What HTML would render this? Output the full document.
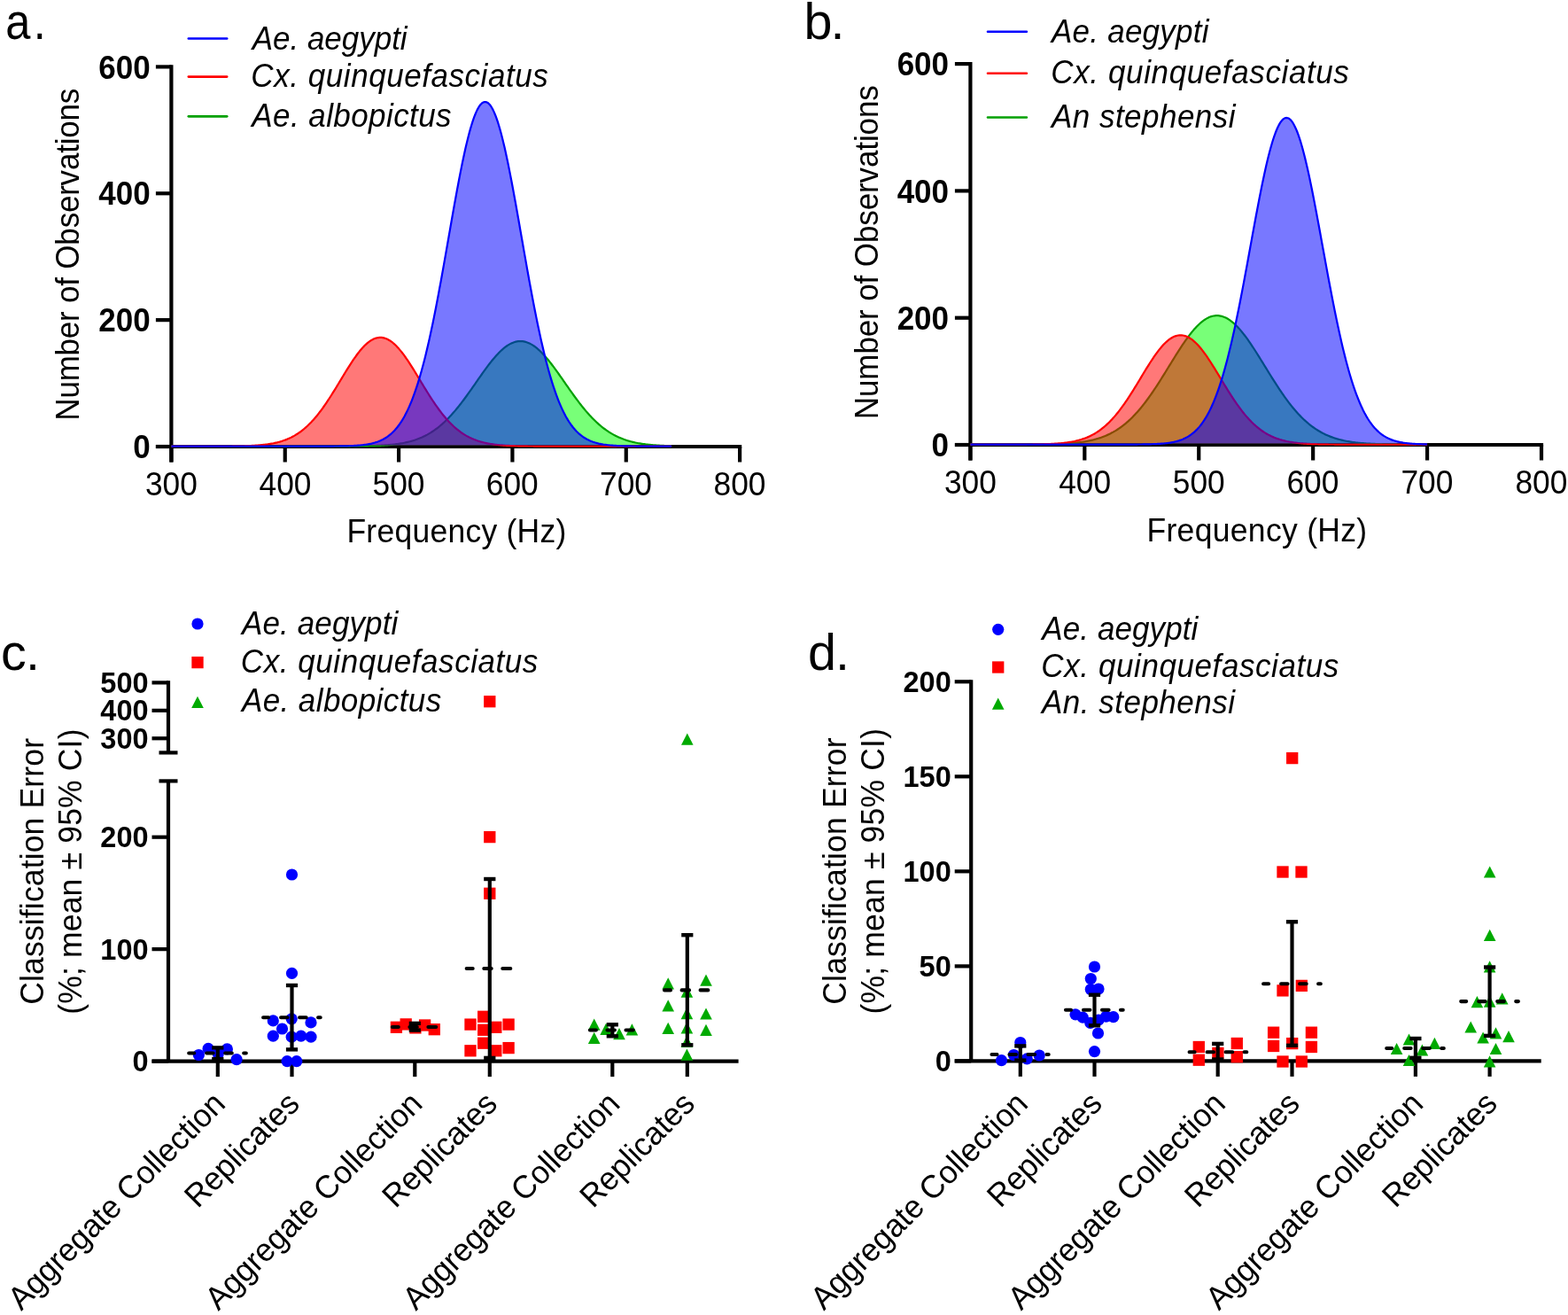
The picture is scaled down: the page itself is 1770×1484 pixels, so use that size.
<!DOCTYPE html>
<html><head><meta charset="utf-8"><title>Figure</title>
<style>html,body{margin:0;padding:0;background:#fff;overflow:hidden}svg{display:block}</style>
</head><body>
<svg width="1770" height="1484" viewBox="0 0 1770 1484" font-family="'Liberation Sans', Arial, Helvetica, sans-serif">
<rect width="1770" height="1484" fill="#fff"/>
<line x1="193.4" y1="73.3" x2="193.4" y2="521.5" stroke="#000" stroke-width="4.2" stroke-linecap="butt"/>
<line x1="175.9" y1="504" x2="193.4" y2="504" stroke="#000" stroke-width="4.2" stroke-linecap="butt"/>
<text font-size="35" font-weight="bold" transform="translate(150.27,517.11) scale(1,1.06)">0</text>
<line x1="175.9" y1="361.13" x2="193.4" y2="361.13" stroke="#000" stroke-width="4.2" stroke-linecap="butt"/>
<text font-size="35" font-weight="bold" transform="translate(111.34,374.25) scale(1,1.06)">200</text>
<line x1="175.9" y1="218.27" x2="193.4" y2="218.27" stroke="#000" stroke-width="4.2" stroke-linecap="butt"/>
<text font-size="35" font-weight="bold" transform="translate(111.34,231.38) scale(1,1.06)">400</text>
<line x1="175.9" y1="75.4" x2="193.4" y2="75.4" stroke="#000" stroke-width="4.2" stroke-linecap="butt"/>
<text font-size="35" font-weight="bold" transform="translate(111.34,88.51) scale(1,1.06)">600</text>
<line x1="175.9" y1="504" x2="837.2" y2="504" stroke="#000" stroke-width="4.2" stroke-linecap="butt"/>
<line x1="193.4" y1="504" x2="193.4" y2="521.5" stroke="#000" stroke-width="4.2" stroke-linecap="butt"/>
<text font-size="35.3" transform="translate(163.97,558.6) scale(1,1.06)">300</text>
<line x1="321.74" y1="504" x2="321.74" y2="521.5" stroke="#000" stroke-width="4.2" stroke-linecap="butt"/>
<text font-size="35.3" transform="translate(292.58,558.6) scale(1,1.06)">400</text>
<line x1="450.08" y1="504" x2="450.08" y2="521.5" stroke="#000" stroke-width="4.2" stroke-linecap="butt"/>
<text font-size="35.3" transform="translate(420.61,558.6) scale(1,1.06)">500</text>
<line x1="578.42" y1="504" x2="578.42" y2="521.5" stroke="#000" stroke-width="4.2" stroke-linecap="butt"/>
<text font-size="35.3" transform="translate(548.76,558.6) scale(1,1.06)">600</text>
<line x1="706.76" y1="504" x2="706.76" y2="521.5" stroke="#000" stroke-width="4.2" stroke-linecap="butt"/>
<text font-size="35.3" transform="translate(677.1,558.6) scale(1,1.06)">700</text>
<line x1="835.1" y1="504" x2="835.1" y2="521.5" stroke="#000" stroke-width="4.2" stroke-linecap="butt"/>
<text font-size="35.3" transform="translate(805.57,558.6) scale(1,1.06)">800</text>
<path d="M193.4,502.4 L193.4,502.4 L194.68,502.4 L195.97,502.4 L197.25,502.4 L198.53,502.4 L199.82,502.4 L201.1,502.4 L202.38,502.4 L203.67,502.4 L204.95,502.4 L206.23,502.4 L207.52,502.4 L208.8,502.4 L210.08,502.4 L211.37,502.4 L212.65,502.4 L213.93,502.4 L215.22,502.4 L216.5,502.4 L217.78,502.4 L219.07,502.4 L220.35,502.4 L221.63,502.4 L222.92,502.4 L224.2,502.4 L225.49,502.4 L226.77,502.4 L228.05,502.4 L229.34,502.4 L230.62,502.4 L231.9,502.4 L233.19,502.4 L234.47,502.4 L235.75,502.4 L237.04,502.4 L238.32,502.4 L239.6,502.4 L240.89,502.4 L242.17,502.4 L243.45,502.4 L244.74,502.4 L246.02,502.4 L247.3,502.4 L248.59,502.4 L249.87,502.4 L251.15,502.4 L252.44,502.4 L253.72,502.4 L255,502.4 L256.29,502.4 L257.57,502.4 L258.85,502.4 L260.14,502.4 L261.42,502.4 L262.7,502.4 L263.99,502.4 L265.27,502.4 L266.55,502.4 L267.84,502.4 L269.12,502.4 L270.4,502.4 L271.69,502.4 L272.97,502.4 L274.25,502.4 L275.54,502.4 L276.82,502.4 L278.1,502.4 L279.39,502.4 L280.67,502.4 L281.95,502.4 L283.24,502.4 L284.52,502.4 L285.8,502.4 L287.09,502.4 L288.37,502.4 L289.66,502.4 L290.94,502.4 L292.22,502.4 L293.51,502.4 L294.79,502.4 L296.07,502.4 L297.36,502.4 L298.64,502.4 L299.92,502.4 L301.21,502.4 L302.49,502.4 L303.77,502.4 L305.06,502.4 L306.34,502.4 L307.62,502.4 L308.91,502.4 L310.19,502.4 L311.47,502.4 L312.76,502.4 L314.04,502.4 L315.32,502.4 L316.61,502.4 L317.89,502.4 L319.17,502.4 L320.46,502.4 L321.74,502.4 L323.02,502.4 L324.31,502.4 L325.59,502.4 L326.87,502.4 L328.16,502.4 L329.44,502.4 L330.72,502.4 L332.01,502.4 L333.29,502.4 L334.57,502.4 L335.86,502.4 L337.14,502.4 L338.42,502.4 L339.71,502.4 L340.99,502.4 L342.27,502.4 L343.56,502.4 L344.84,502.4 L346.12,502.4 L347.41,502.4 L348.69,502.4 L349.97,502.4 L351.26,502.4 L352.54,502.4 L353.83,502.4 L355.11,502.4 L356.39,502.4 L357.68,502.4 L358.96,502.4 L360.24,502.4 L361.53,502.4 L362.81,502.4 L364.09,502.4 L365.38,502.4 L366.66,502.4 L367.94,502.4 L369.23,502.4 L370.51,502.4 L371.79,502.4 L373.08,502.4 L374.36,502.4 L375.64,502.4 L376.93,502.4 L378.21,502.4 L379.49,502.4 L380.78,502.4 L382.06,502.4 L383.34,502.4 L384.63,502.4 L385.91,502.4 L387.19,502.4 L388.48,502.4 L389.76,502.4 L391.04,502.4 L392.33,502.4 L393.61,502.4 L394.89,502.4 L396.18,502.4 L397.46,502.4 L398.74,502.4 L400.03,502.4 L401.31,502.4 L402.59,502.4 L403.88,502.4 L405.16,502.4 L406.44,502.4 L407.73,502.4 L409.01,502.4 L410.29,502.4 L411.58,502.4 L412.86,502.4 L414.14,502.4 L415.43,502.4 L416.71,502.4 L418,502.4 L419.28,502.4 L420.56,502.4 L421.85,502.4 L423.13,502.4 L424.41,502.4 L425.7,502.4 L426.98,502.4 L428.26,502.4 L429.55,502.4 L430.83,502.4 L432.11,502.4 L433.4,502.4 L434.68,502.4 L435.96,502.38 L437.25,502.28 L438.53,502.18 L439.81,502.07 L441.1,501.95 L442.38,501.82 L443.66,501.68 L444.95,501.53 L446.23,501.38 L447.51,501.21 L448.8,501.04 L450.08,500.85 L451.36,500.65 L452.65,500.44 L453.93,500.21 L455.21,499.97 L456.5,499.72 L457.78,499.45 L459.06,499.17 L460.35,498.87 L461.63,498.55 L462.91,498.22 L464.2,497.87 L465.48,497.5 L466.76,497.11 L468.05,496.69 L469.33,496.26 L470.61,495.81 L471.9,495.33 L473.18,494.83 L474.46,494.3 L475.75,493.75 L477.03,493.17 L478.31,492.57 L479.6,491.94 L480.88,491.28 L482.17,490.6 L483.45,489.88 L484.73,489.14 L486.02,488.36 L487.3,487.55 L488.58,486.71 L489.87,485.84 L491.15,484.94 L492.43,484 L493.72,483.03 L495,482.03 L496.28,480.99 L497.57,479.92 L498.85,478.81 L500.13,477.67 L501.42,476.49 L502.7,475.28 L503.98,474.03 L505.27,472.75 L506.55,471.44 L507.83,470.09 L509.12,468.7 L510.4,467.29 L511.68,465.84 L512.97,464.36 L514.25,462.85 L515.53,461.3 L516.82,459.73 L518.1,458.13 L519.38,456.5 L520.67,454.85 L521.95,453.17 L523.23,451.47 L524.52,449.74 L525.8,448 L527.08,446.24 L528.37,444.46 L529.65,442.66 L530.93,440.85 L532.22,439.03 L533.5,437.2 L534.78,435.36 L536.07,433.52 L537.35,431.68 L538.63,429.83 L539.92,427.99 L541.2,426.16 L542.48,424.33 L543.77,422.51 L545.05,420.7 L546.34,418.91 L547.62,417.14 L548.9,415.39 L550.19,413.66 L551.47,411.96 L552.75,410.29 L554.04,408.65 L555.32,407.04 L556.6,405.48 L557.89,403.95 L559.17,402.46 L560.45,401.02 L561.74,399.63 L563.02,398.29 L564.3,397 L565.59,395.77 L566.87,394.59 L568.15,393.47 L569.44,392.42 L570.72,391.43 L572,390.5 L573.29,389.64 L574.57,388.86 L575.85,388.14 L577.14,387.49 L578.42,386.92 L579.7,386.42 L580.99,385.99 L582.27,385.64 L583.55,385.37 L584.84,385.18 L586.12,385.06 L587.4,385.02 L588.69,385.06 L589.97,385.18 L591.25,385.37 L592.54,385.64 L593.82,385.99 L595.1,386.42 L596.39,386.92 L597.67,387.49 L598.95,388.14 L600.24,388.86 L601.52,389.64 L602.8,390.5 L604.09,391.43 L605.37,392.42 L606.65,393.47 L607.94,394.59 L609.22,395.77 L610.5,397 L611.79,398.29 L613.07,399.63 L614.36,401.02 L615.64,402.46 L616.92,403.95 L618.21,405.48 L619.49,407.04 L620.77,408.65 L622.06,410.29 L623.34,411.96 L624.62,413.66 L625.91,415.39 L627.19,417.14 L628.47,418.91 L629.76,420.7 L631.04,422.51 L632.32,424.33 L633.61,426.16 L634.89,427.99 L636.17,429.83 L637.46,431.68 L638.74,433.52 L640.02,435.36 L641.31,437.2 L642.59,439.03 L643.87,440.85 L645.16,442.66 L646.44,444.46 L647.72,446.24 L649.01,448 L650.29,449.74 L651.57,451.47 L652.86,453.17 L654.14,454.85 L655.42,456.5 L656.71,458.13 L657.99,459.73 L659.27,461.3 L660.56,462.85 L661.84,464.36 L663.12,465.84 L664.41,467.29 L665.69,468.7 L666.97,470.09 L668.26,471.44 L669.54,472.75 L670.82,474.03 L672.11,475.28 L673.39,476.49 L674.68,477.67 L675.96,478.81 L677.24,479.92 L678.53,480.99 L679.81,482.03 L681.09,483.03 L682.38,484 L683.66,484.94 L684.94,485.84 L686.23,486.71 L687.51,487.55 L688.79,488.36 L690.08,489.14 L691.36,489.88 L692.64,490.6 L693.93,491.28 L695.21,491.94 L696.49,492.57 L697.78,493.17 L699.06,493.75 L700.34,494.3 L701.63,494.83 L702.91,495.33 L704.19,495.81 L705.48,496.26 L706.76,496.69 L708.04,497.11 L709.33,497.5 L710.61,497.87 L711.89,498.22 L713.18,498.55 L714.46,498.87 L715.74,499.17 L717.03,499.45 L718.31,499.72 L719.59,499.97 L720.88,500.21 L722.16,500.44 L723.44,500.65 L724.73,500.85 L726.01,501.04 L727.29,501.21 L728.58,501.38 L729.86,501.53 L731.14,501.68 L732.43,501.82 L733.71,501.95 L734.99,502.07 L736.28,502.18 L737.56,502.28 L738.85,502.38 L740.13,502.4 L741.41,502.4 L742.7,502.4 L743.98,502.4 L745.26,502.4 L746.55,502.4 L747.83,502.4 L749.11,502.4 L750.4,502.4 L751.68,502.4 L752.96,502.4 L754.25,502.4 L755.53,502.4 L756.81,502.4 L758.1,502.4 L758.1,502.4 Z" fill="#00ff00" fill-opacity="0.53"/>
<path d="M193.4,503.6 L194.68,503.6 L195.97,503.6 L197.25,503.6 L198.53,503.6 L199.82,503.6 L201.1,503.6 L202.38,503.6 L203.67,503.6 L204.95,503.6 L206.23,503.6 L207.52,503.6 L208.8,503.6 L210.08,503.6 L211.37,503.6 L212.65,503.6 L213.93,503.6 L215.22,503.6 L216.5,503.6 L217.78,503.6 L219.07,503.6 L220.35,503.6 L221.63,503.6 L222.92,503.6 L224.2,503.6 L225.49,503.6 L226.77,503.6 L228.05,503.6 L229.34,503.6 L230.62,503.6 L231.9,503.6 L233.19,503.6 L234.47,503.6 L235.75,503.6 L237.04,503.6 L238.32,503.6 L239.6,503.6 L240.89,503.6 L242.17,503.6 L243.45,503.6 L244.74,503.6 L246.02,503.6 L247.3,503.6 L248.59,503.6 L249.87,503.6 L251.15,503.6 L252.44,503.6 L253.72,503.6 L255,503.6 L256.29,503.6 L257.57,503.6 L258.85,503.6 L260.14,503.6 L261.42,503.6 L262.7,503.6 L263.99,503.6 L265.27,503.6 L266.55,503.6 L267.84,503.6 L269.12,503.6 L270.4,503.6 L271.69,503.6 L272.97,503.6 L274.25,503.6 L275.54,503.6 L276.82,503.6 L278.1,503.6 L279.39,503.6 L280.67,503.6 L281.95,503.6 L283.24,503.6 L284.52,503.6 L285.8,503.6 L287.09,503.6 L288.37,503.6 L289.66,503.6 L290.94,503.6 L292.22,503.6 L293.51,503.6 L294.79,503.6 L296.07,503.6 L297.36,503.6 L298.64,503.6 L299.92,503.6 L301.21,503.6 L302.49,503.6 L303.77,503.6 L305.06,503.6 L306.34,503.6 L307.62,503.6 L308.91,503.6 L310.19,503.6 L311.47,503.6 L312.76,503.6 L314.04,503.6 L315.32,503.6 L316.61,503.6 L317.89,503.6 L319.17,503.6 L320.46,503.6 L321.74,503.6 L323.02,503.6 L324.31,503.6 L325.59,503.6 L326.87,503.6 L328.16,503.6 L329.44,503.6 L330.72,503.6 L332.01,503.6 L333.29,503.6 L334.57,503.6 L335.86,503.6 L337.14,503.6 L338.42,503.6 L339.71,503.6 L340.99,503.6 L342.27,503.6 L343.56,503.6 L344.84,503.6 L346.12,503.6 L347.41,503.6 L348.69,503.6 L349.97,503.6 L351.26,503.6 L352.54,503.6 L353.83,503.6 L355.11,503.6 L356.39,503.6 L357.68,503.6 L358.96,503.6 L360.24,503.6 L361.53,503.6 L362.81,503.59 L364.09,503.59 L365.38,503.59 L366.66,503.59 L367.94,503.59 L369.23,503.59 L370.51,503.59 L371.79,503.59 L373.08,503.59 L374.36,503.59 L375.64,503.58 L376.93,503.58 L378.21,503.58 L379.49,503.58 L380.78,503.58 L382.06,503.57 L383.34,503.57 L384.63,503.57 L385.91,503.56 L387.19,503.56 L388.48,503.56 L389.76,503.55 L391.04,503.55 L392.33,503.54 L393.61,503.53 L394.89,503.53 L396.18,503.52 L397.46,503.51 L398.74,503.5 L400.03,503.49 L401.31,503.48 L402.59,503.47 L403.88,503.46 L405.16,503.44 L406.44,503.43 L407.73,503.41 L409.01,503.39 L410.29,503.37 L411.58,503.35 L412.86,503.33 L414.14,503.3 L415.43,503.28 L416.71,503.25 L418,503.21 L419.28,503.18 L420.56,503.14 L421.85,503.1 L423.13,503.06 L424.41,503.01 L425.7,502.96 L426.98,502.9 L428.26,502.84 L429.55,502.78 L430.83,502.71 L432.11,502.64 L433.4,502.56 L434.68,502.47 L435.96,502.38 L437.25,502.28 L438.53,502.18 L439.81,502.07 L441.1,501.95 L442.38,501.82 L443.66,501.68 L444.95,501.53 L446.23,501.38 L447.51,501.21 L448.8,501.04 L450.08,500.85 L451.36,500.65 L452.65,500.44 L453.93,500.21 L455.21,499.97 L456.5,499.72 L457.78,499.45 L459.06,499.17 L460.35,498.87 L461.63,498.55 L462.91,498.22 L464.2,497.87 L465.48,497.5 L466.76,497.11 L468.05,496.69 L469.33,496.26 L470.61,495.81 L471.9,495.33 L473.18,494.83 L474.46,494.3 L475.75,493.75 L477.03,493.17 L478.31,492.57 L479.6,491.94 L480.88,491.28 L482.17,490.6 L483.45,489.88 L484.73,489.14 L486.02,488.36 L487.3,487.55 L488.58,486.71 L489.87,485.84 L491.15,484.94 L492.43,484 L493.72,483.03 L495,482.03 L496.28,480.99 L497.57,479.92 L498.85,478.81 L500.13,477.67 L501.42,476.49 L502.7,475.28 L503.98,474.03 L505.27,472.75 L506.55,471.44 L507.83,470.09 L509.12,468.7 L510.4,467.29 L511.68,465.84 L512.97,464.36 L514.25,462.85 L515.53,461.3 L516.82,459.73 L518.1,458.13 L519.38,456.5 L520.67,454.85 L521.95,453.17 L523.23,451.47 L524.52,449.74 L525.8,448 L527.08,446.24 L528.37,444.46 L529.65,442.66 L530.93,440.85 L532.22,439.03 L533.5,437.2 L534.78,435.36 L536.07,433.52 L537.35,431.68 L538.63,429.83 L539.92,427.99 L541.2,426.16 L542.48,424.33 L543.77,422.51 L545.05,420.7 L546.34,418.91 L547.62,417.14 L548.9,415.39 L550.19,413.66 L551.47,411.96 L552.75,410.29 L554.04,408.65 L555.32,407.04 L556.6,405.48 L557.89,403.95 L559.17,402.46 L560.45,401.02 L561.74,399.63 L563.02,398.29 L564.3,397 L565.59,395.77 L566.87,394.59 L568.15,393.47 L569.44,392.42 L570.72,391.43 L572,390.5 L573.29,389.64 L574.57,388.86 L575.85,388.14 L577.14,387.49 L578.42,386.92 L579.7,386.42 L580.99,385.99 L582.27,385.64 L583.55,385.37 L584.84,385.18 L586.12,385.06 L587.4,385.02 L588.69,385.06 L589.97,385.18 L591.25,385.37 L592.54,385.64 L593.82,385.99 L595.1,386.42 L596.39,386.92 L597.67,387.49 L598.95,388.14 L600.24,388.86 L601.52,389.64 L602.8,390.5 L604.09,391.43 L605.37,392.42 L606.65,393.47 L607.94,394.59 L609.22,395.77 L610.5,397 L611.79,398.29 L613.07,399.63 L614.36,401.02 L615.64,402.46 L616.92,403.95 L618.21,405.48 L619.49,407.04 L620.77,408.65 L622.06,410.29 L623.34,411.96 L624.62,413.66 L625.91,415.39 L627.19,417.14 L628.47,418.91 L629.76,420.7 L631.04,422.51 L632.32,424.33 L633.61,426.16 L634.89,427.99 L636.17,429.83 L637.46,431.68 L638.74,433.52 L640.02,435.36 L641.31,437.2 L642.59,439.03 L643.87,440.85 L645.16,442.66 L646.44,444.46 L647.72,446.24 L649.01,448 L650.29,449.74 L651.57,451.47 L652.86,453.17 L654.14,454.85 L655.42,456.5 L656.71,458.13 L657.99,459.73 L659.27,461.3 L660.56,462.85 L661.84,464.36 L663.12,465.84 L664.41,467.29 L665.69,468.7 L666.97,470.09 L668.26,471.44 L669.54,472.75 L670.82,474.03 L672.11,475.28 L673.39,476.49 L674.68,477.67 L675.96,478.81 L677.24,479.92 L678.53,480.99 L679.81,482.03 L681.09,483.03 L682.38,484 L683.66,484.94 L684.94,485.84 L686.23,486.71 L687.51,487.55 L688.79,488.36 L690.08,489.14 L691.36,489.88 L692.64,490.6 L693.93,491.28 L695.21,491.94 L696.49,492.57 L697.78,493.17 L699.06,493.75 L700.34,494.3 L701.63,494.83 L702.91,495.33 L704.19,495.81 L705.48,496.26 L706.76,496.69 L708.04,497.11 L709.33,497.5 L710.61,497.87 L711.89,498.22 L713.18,498.55 L714.46,498.87 L715.74,499.17 L717.03,499.45 L718.31,499.72 L719.59,499.97 L720.88,500.21 L722.16,500.44 L723.44,500.65 L724.73,500.85 L726.01,501.04 L727.29,501.21 L728.58,501.38 L729.86,501.53 L731.14,501.68 L732.43,501.82 L733.71,501.95 L734.99,502.07 L736.28,502.18 L737.56,502.28 L738.85,502.38 L740.13,502.47 L741.41,502.56 L742.7,502.64 L743.98,502.71 L745.26,502.78 L746.55,502.84 L747.83,502.9 L749.11,502.96 L750.4,503.01 L751.68,503.06 L752.96,503.1 L754.25,503.14 L755.53,503.18 L756.81,503.21 L758.1,503.25" fill="none" stroke="#00a000" stroke-width="2.2" stroke-linejoin="round"/>
<path d="M193.4,502.4 L193.4,502.4 L194.68,502.4 L195.97,502.4 L197.25,502.4 L198.53,502.4 L199.82,502.4 L201.1,502.4 L202.38,502.4 L203.67,502.4 L204.95,502.4 L206.23,502.4 L207.52,502.4 L208.8,502.4 L210.08,502.4 L211.37,502.4 L212.65,502.4 L213.93,502.4 L215.22,502.4 L216.5,502.4 L217.78,502.4 L219.07,502.4 L220.35,502.4 L221.63,502.4 L222.92,502.4 L224.2,502.4 L225.49,502.4 L226.77,502.4 L228.05,502.4 L229.34,502.4 L230.62,502.4 L231.9,502.4 L233.19,502.4 L234.47,502.4 L235.75,502.4 L237.04,502.4 L238.32,502.4 L239.6,502.4 L240.89,502.4 L242.17,502.4 L243.45,502.4 L244.74,502.4 L246.02,502.4 L247.3,502.4 L248.59,502.4 L249.87,502.4 L251.15,502.4 L252.44,502.4 L253.72,502.4 L255,502.4 L256.29,502.4 L257.57,502.4 L258.85,502.4 L260.14,502.4 L261.42,502.4 L262.7,502.4 L263.99,502.4 L265.27,502.4 L266.55,502.4 L267.84,502.4 L269.12,502.4 L270.4,502.4 L271.69,502.4 L272.97,502.4 L274.25,502.4 L275.54,502.4 L276.82,502.4 L278.1,502.4 L279.39,502.4 L280.67,502.4 L281.95,502.4 L283.24,502.4 L284.52,502.4 L285.8,502.4 L287.09,502.4 L288.37,502.4 L289.66,502.4 L290.94,502.4 L292.22,502.4 L293.51,502.33 L294.79,502.21 L296.07,502.09 L297.36,501.96 L298.64,501.81 L299.92,501.66 L301.21,501.49 L302.49,501.32 L303.77,501.13 L305.06,500.92 L306.34,500.7 L307.62,500.47 L308.91,500.22 L310.19,499.95 L311.47,499.66 L312.76,499.36 L314.04,499.03 L315.32,498.69 L316.61,498.32 L317.89,497.93 L319.17,497.52 L320.46,497.08 L321.74,496.62 L323.02,496.12 L324.31,495.61 L325.59,495.06 L326.87,494.48 L328.16,493.87 L329.44,493.23 L330.72,492.55 L332.01,491.84 L333.29,491.09 L334.57,490.31 L335.86,489.49 L337.14,488.63 L338.42,487.74 L339.71,486.8 L340.99,485.82 L342.27,484.8 L343.56,483.74 L344.84,482.64 L346.12,481.49 L347.41,480.3 L348.69,479.06 L349.97,477.78 L351.26,476.46 L352.54,475.09 L353.83,473.67 L355.11,472.22 L356.39,470.71 L357.68,469.17 L358.96,467.58 L360.24,465.94 L361.53,464.27 L362.81,462.55 L364.09,460.8 L365.38,459 L366.66,457.17 L367.94,455.3 L369.23,453.4 L370.51,451.47 L371.79,449.51 L373.08,447.51 L374.36,445.5 L375.64,443.45 L376.93,441.39 L378.21,439.31 L379.49,437.22 L380.78,435.11 L382.06,432.99 L383.34,430.87 L384.63,428.74 L385.91,426.61 L387.19,424.49 L388.48,422.38 L389.76,420.28 L391.04,418.19 L392.33,416.12 L393.61,414.08 L394.89,412.06 L396.18,410.07 L397.46,408.12 L398.74,406.21 L400.03,404.34 L401.31,402.52 L402.59,400.74 L403.88,399.02 L405.16,397.36 L406.44,395.76 L407.73,394.23 L409.01,392.77 L410.29,391.37 L411.58,390.06 L412.86,388.82 L414.14,387.66 L415.43,386.58 L416.71,385.6 L418,384.7 L419.28,383.89 L420.56,383.17 L421.85,382.55 L423.13,382.03 L424.41,381.6 L425.7,381.27 L426.98,381.04 L428.26,380.91 L429.55,380.88 L430.83,380.95 L432.11,381.12 L433.4,381.39 L434.68,381.76 L435.96,382.22 L437.25,382.79 L438.53,383.45 L439.81,384.2 L441.1,385.04 L442.38,385.98 L443.66,387 L444.95,388.11 L446.23,389.3 L447.51,390.57 L448.8,391.92 L450.08,393.34 L451.36,394.84 L452.65,396.4 L453.93,398.02 L455.21,399.71 L456.5,401.45 L457.78,403.24 L459.06,405.08 L460.35,406.97 L461.63,408.9 L462.91,410.87 L464.2,412.86 L465.48,414.89 L466.76,416.95 L468.05,419.02 L469.33,421.12 L470.61,423.22 L471.9,425.34 L473.18,427.46 L474.46,429.59 L475.75,431.72 L477.03,433.84 L478.31,435.95 L479.6,438.06 L480.88,440.15 L482.17,442.22 L483.45,444.27 L484.73,446.31 L486.02,448.31 L487.3,450.29 L488.58,452.25 L489.87,454.17 L491.15,456.06 L492.43,457.91 L493.72,459.73 L495,461.5 L496.28,463.24 L497.57,464.94 L498.85,466.6 L500.13,468.22 L501.42,469.79 L502.7,471.32 L503.98,472.8 L505.27,474.25 L506.55,475.64 L507.83,476.99 L509.12,478.3 L510.4,479.56 L511.68,480.78 L512.97,481.95 L514.25,483.08 L515.53,484.17 L516.82,485.22 L518.1,486.22 L519.38,487.18 L520.67,488.1 L521.95,488.98 L523.23,489.82 L524.52,490.63 L525.8,491.4 L527.08,492.13 L528.37,492.82 L529.65,493.49 L530.93,494.12 L532.22,494.71 L533.5,495.28 L534.78,495.82 L536.07,496.32 L537.35,496.8 L538.63,497.26 L539.92,497.69 L541.2,498.09 L542.48,498.47 L543.77,498.83 L545.05,499.17 L546.34,499.48 L547.62,499.78 L548.9,500.06 L550.19,500.32 L551.47,500.56 L552.75,500.79 L554.04,501 L555.32,501.2 L556.6,501.39 L557.89,501.56 L559.17,501.72 L560.45,501.87 L561.74,502.01 L563.02,502.14 L564.3,502.26 L565.59,502.37 L566.87,502.4 L568.15,502.4 L569.44,502.4 L570.72,502.4 L572,502.4 L573.29,502.4 L574.57,502.4 L575.85,502.4 L577.14,502.4 L578.42,502.4 L579.7,502.4 L580.99,502.4 L582.27,502.4 L583.55,502.4 L584.84,502.4 L586.12,502.4 L587.4,502.4 L588.69,502.4 L589.97,502.4 L591.25,502.4 L592.54,502.4 L593.82,502.4 L595.1,502.4 L596.39,502.4 L597.67,502.4 L598.95,502.4 L600.24,502.4 L601.52,502.4 L602.8,502.4 L604.09,502.4 L605.37,502.4 L606.65,502.4 L607.94,502.4 L609.22,502.4 L610.5,502.4 L611.79,502.4 L613.07,502.4 L614.36,502.4 L615.64,502.4 L616.92,502.4 L618.21,502.4 L619.49,502.4 L620.77,502.4 L622.06,502.4 L623.34,502.4 L624.62,502.4 L625.91,502.4 L627.19,502.4 L628.47,502.4 L629.76,502.4 L631.04,502.4 L632.32,502.4 L633.61,502.4 L634.89,502.4 L636.17,502.4 L637.46,502.4 L638.74,502.4 L640.02,502.4 L641.31,502.4 L642.59,502.4 L643.87,502.4 L645.16,502.4 L646.44,502.4 L647.72,502.4 L649.01,502.4 L650.29,502.4 L651.57,502.4 L652.86,502.4 L654.14,502.4 L655.42,502.4 L656.71,502.4 L657.99,502.4 L659.27,502.4 L660.56,502.4 L661.84,502.4 L663.12,502.4 L664.41,502.4 L665.69,502.4 L666.97,502.4 L668.26,502.4 L669.54,502.4 L670.82,502.4 L672.11,502.4 L673.39,502.4 L674.68,502.4 L675.96,502.4 L677.24,502.4 L678.53,502.4 L679.81,502.4 L681.09,502.4 L682.38,502.4 L683.66,502.4 L684.94,502.4 L686.23,502.4 L687.51,502.4 L688.79,502.4 L690.08,502.4 L691.36,502.4 L692.64,502.4 L693.93,502.4 L695.21,502.4 L696.49,502.4 L697.78,502.4 L699.06,502.4 L700.34,502.4 L701.63,502.4 L702.91,502.4 L704.19,502.4 L705.48,502.4 L706.76,502.4 L708.04,502.4 L709.33,502.4 L710.61,502.4 L711.89,502.4 L713.18,502.4 L714.46,502.4 L715.74,502.4 L717.03,502.4 L718.31,502.4 L719.59,502.4 L720.88,502.4 L722.16,502.4 L723.44,502.4 L724.73,502.4 L726.01,502.4 L727.29,502.4 L728.58,502.4 L729.86,502.4 L731.14,502.4 L732.43,502.4 L733.71,502.4 L734.99,502.4 L736.28,502.4 L737.56,502.4 L738.85,502.4 L740.13,502.4 L741.41,502.4 L742.7,502.4 L743.98,502.4 L745.26,502.4 L746.55,502.4 L747.83,502.4 L749.11,502.4 L750.4,502.4 L751.68,502.4 L752.96,502.4 L754.25,502.4 L755.53,502.4 L756.81,502.4 L758.1,502.4 L758.1,502.4 Z" fill="#ff0000" fill-opacity="0.53"/>
<path d="M193.4,503.6 L194.68,503.6 L195.97,503.6 L197.25,503.6 L198.53,503.6 L199.82,503.6 L201.1,503.6 L202.38,503.6 L203.67,503.6 L204.95,503.6 L206.23,503.6 L207.52,503.6 L208.8,503.6 L210.08,503.6 L211.37,503.6 L212.65,503.6 L213.93,503.6 L215.22,503.6 L216.5,503.6 L217.78,503.6 L219.07,503.6 L220.35,503.6 L221.63,503.6 L222.92,503.6 L224.2,503.6 L225.49,503.6 L226.77,503.6 L228.05,503.59 L229.34,503.59 L230.62,503.59 L231.9,503.59 L233.19,503.59 L234.47,503.59 L235.75,503.59 L237.04,503.59 L238.32,503.59 L239.6,503.58 L240.89,503.58 L242.17,503.58 L243.45,503.58 L244.74,503.57 L246.02,503.57 L247.3,503.57 L248.59,503.56 L249.87,503.56 L251.15,503.55 L252.44,503.55 L253.72,503.54 L255,503.53 L256.29,503.53 L257.57,503.52 L258.85,503.51 L260.14,503.5 L261.42,503.49 L262.7,503.47 L263.99,503.46 L265.27,503.44 L266.55,503.43 L267.84,503.41 L269.12,503.39 L270.4,503.36 L271.69,503.34 L272.97,503.31 L274.25,503.28 L275.54,503.25 L276.82,503.21 L278.1,503.17 L279.39,503.13 L280.67,503.08 L281.95,503.03 L283.24,502.98 L284.52,502.92 L285.8,502.85 L287.09,502.78 L288.37,502.7 L289.66,502.62 L290.94,502.53 L292.22,502.43 L293.51,502.33 L294.79,502.21 L296.07,502.09 L297.36,501.96 L298.64,501.81 L299.92,501.66 L301.21,501.49 L302.49,501.32 L303.77,501.13 L305.06,500.92 L306.34,500.7 L307.62,500.47 L308.91,500.22 L310.19,499.95 L311.47,499.66 L312.76,499.36 L314.04,499.03 L315.32,498.69 L316.61,498.32 L317.89,497.93 L319.17,497.52 L320.46,497.08 L321.74,496.62 L323.02,496.12 L324.31,495.61 L325.59,495.06 L326.87,494.48 L328.16,493.87 L329.44,493.23 L330.72,492.55 L332.01,491.84 L333.29,491.09 L334.57,490.31 L335.86,489.49 L337.14,488.63 L338.42,487.74 L339.71,486.8 L340.99,485.82 L342.27,484.8 L343.56,483.74 L344.84,482.64 L346.12,481.49 L347.41,480.3 L348.69,479.06 L349.97,477.78 L351.26,476.46 L352.54,475.09 L353.83,473.67 L355.11,472.22 L356.39,470.71 L357.68,469.17 L358.96,467.58 L360.24,465.94 L361.53,464.27 L362.81,462.55 L364.09,460.8 L365.38,459 L366.66,457.17 L367.94,455.3 L369.23,453.4 L370.51,451.47 L371.79,449.51 L373.08,447.51 L374.36,445.5 L375.64,443.45 L376.93,441.39 L378.21,439.31 L379.49,437.22 L380.78,435.11 L382.06,432.99 L383.34,430.87 L384.63,428.74 L385.91,426.61 L387.19,424.49 L388.48,422.38 L389.76,420.28 L391.04,418.19 L392.33,416.12 L393.61,414.08 L394.89,412.06 L396.18,410.07 L397.46,408.12 L398.74,406.21 L400.03,404.34 L401.31,402.52 L402.59,400.74 L403.88,399.02 L405.16,397.36 L406.44,395.76 L407.73,394.23 L409.01,392.77 L410.29,391.37 L411.58,390.06 L412.86,388.82 L414.14,387.66 L415.43,386.58 L416.71,385.6 L418,384.7 L419.28,383.89 L420.56,383.17 L421.85,382.55 L423.13,382.03 L424.41,381.6 L425.7,381.27 L426.98,381.04 L428.26,380.91 L429.55,380.88 L430.83,380.95 L432.11,381.12 L433.4,381.39 L434.68,381.76 L435.96,382.22 L437.25,382.79 L438.53,383.45 L439.81,384.2 L441.1,385.04 L442.38,385.98 L443.66,387 L444.95,388.11 L446.23,389.3 L447.51,390.57 L448.8,391.92 L450.08,393.34 L451.36,394.84 L452.65,396.4 L453.93,398.02 L455.21,399.71 L456.5,401.45 L457.78,403.24 L459.06,405.08 L460.35,406.97 L461.63,408.9 L462.91,410.87 L464.2,412.86 L465.48,414.89 L466.76,416.95 L468.05,419.02 L469.33,421.12 L470.61,423.22 L471.9,425.34 L473.18,427.46 L474.46,429.59 L475.75,431.72 L477.03,433.84 L478.31,435.95 L479.6,438.06 L480.88,440.15 L482.17,442.22 L483.45,444.27 L484.73,446.31 L486.02,448.31 L487.3,450.29 L488.58,452.25 L489.87,454.17 L491.15,456.06 L492.43,457.91 L493.72,459.73 L495,461.5 L496.28,463.24 L497.57,464.94 L498.85,466.6 L500.13,468.22 L501.42,469.79 L502.7,471.32 L503.98,472.8 L505.27,474.25 L506.55,475.64 L507.83,476.99 L509.12,478.3 L510.4,479.56 L511.68,480.78 L512.97,481.95 L514.25,483.08 L515.53,484.17 L516.82,485.22 L518.1,486.22 L519.38,487.18 L520.67,488.1 L521.95,488.98 L523.23,489.82 L524.52,490.63 L525.8,491.4 L527.08,492.13 L528.37,492.82 L529.65,493.49 L530.93,494.12 L532.22,494.71 L533.5,495.28 L534.78,495.82 L536.07,496.32 L537.35,496.8 L538.63,497.26 L539.92,497.69 L541.2,498.09 L542.48,498.47 L543.77,498.83 L545.05,499.17 L546.34,499.48 L547.62,499.78 L548.9,500.06 L550.19,500.32 L551.47,500.56 L552.75,500.79 L554.04,501 L555.32,501.2 L556.6,501.39 L557.89,501.56 L559.17,501.72 L560.45,501.87 L561.74,502.01 L563.02,502.14 L564.3,502.26 L565.59,502.37 L566.87,502.47 L568.15,502.57 L569.44,502.66 L570.72,502.74 L572,502.81 L573.29,502.88 L574.57,502.94 L575.85,503 L577.14,503.05 L578.42,503.1 L579.7,503.15 L580.99,503.19 L582.27,503.23 L583.55,503.26 L584.84,503.29 L586.12,503.32 L587.4,503.35 L588.69,503.37 L589.97,503.4 L591.25,503.42 L592.54,503.43 L593.82,503.45 L595.1,503.47 L596.39,503.48 L597.67,503.49 L598.95,503.5 L600.24,503.51 L601.52,503.52 L602.8,503.53 L604.09,503.54 L605.37,503.54 L606.65,503.55 L607.94,503.55 L609.22,503.56 L610.5,503.56 L611.79,503.57 L613.07,503.57 L614.36,503.57 L615.64,503.58 L616.92,503.58 L618.21,503.58 L619.49,503.58 L620.77,503.59 L622.06,503.59 L623.34,503.59 L624.62,503.59 L625.91,503.59 L627.19,503.59 L628.47,503.59 L629.76,503.59 L631.04,503.59 L632.32,503.6 L633.61,503.6 L634.89,503.6 L636.17,503.6 L637.46,503.6 L638.74,503.6 L640.02,503.6 L641.31,503.6 L642.59,503.6 L643.87,503.6 L645.16,503.6 L646.44,503.6 L647.72,503.6 L649.01,503.6 L650.29,503.6 L651.57,503.6 L652.86,503.6 L654.14,503.6 L655.42,503.6 L656.71,503.6 L657.99,503.6 L659.27,503.6 L660.56,503.6 L661.84,503.6 L663.12,503.6 L664.41,503.6 L665.69,503.6 L666.97,503.6 L668.26,503.6 L669.54,503.6 L670.82,503.6 L672.11,503.6 L673.39,503.6 L674.68,503.6 L675.96,503.6 L677.24,503.6 L678.53,503.6 L679.81,503.6 L681.09,503.6 L682.38,503.6 L683.66,503.6 L684.94,503.6 L686.23,503.6 L687.51,503.6 L688.79,503.6 L690.08,503.6 L691.36,503.6 L692.64,503.6 L693.93,503.6 L695.21,503.6 L696.49,503.6 L697.78,503.6 L699.06,503.6 L700.34,503.6 L701.63,503.6 L702.91,503.6 L704.19,503.6 L705.48,503.6 L706.76,503.6 L708.04,503.6 L709.33,503.6 L710.61,503.6 L711.89,503.6 L713.18,503.6 L714.46,503.6 L715.74,503.6 L717.03,503.6 L718.31,503.6 L719.59,503.6 L720.88,503.6 L722.16,503.6 L723.44,503.6 L724.73,503.6 L726.01,503.6 L727.29,503.6 L728.58,503.6 L729.86,503.6 L731.14,503.6 L732.43,503.6 L733.71,503.6 L734.99,503.6 L736.28,503.6 L737.56,503.6 L738.85,503.6 L740.13,503.6 L741.41,503.6 L742.7,503.6 L743.98,503.6 L745.26,503.6 L746.55,503.6 L747.83,503.6 L749.11,503.6 L750.4,503.6 L751.68,503.6 L752.96,503.6 L754.25,503.6 L755.53,503.6 L756.81,503.6 L758.1,503.6" fill="none" stroke="#ff0000" stroke-width="2.2" stroke-linejoin="round"/>
<path d="M193.4,502.4 L193.4,502.4 L194.68,502.4 L195.97,502.4 L197.25,502.4 L198.53,502.4 L199.82,502.4 L201.1,502.4 L202.38,502.4 L203.67,502.4 L204.95,502.4 L206.23,502.4 L207.52,502.4 L208.8,502.4 L210.08,502.4 L211.37,502.4 L212.65,502.4 L213.93,502.4 L215.22,502.4 L216.5,502.4 L217.78,502.4 L219.07,502.4 L220.35,502.4 L221.63,502.4 L222.92,502.4 L224.2,502.4 L225.49,502.4 L226.77,502.4 L228.05,502.4 L229.34,502.4 L230.62,502.4 L231.9,502.4 L233.19,502.4 L234.47,502.4 L235.75,502.4 L237.04,502.4 L238.32,502.4 L239.6,502.4 L240.89,502.4 L242.17,502.4 L243.45,502.4 L244.74,502.4 L246.02,502.4 L247.3,502.4 L248.59,502.4 L249.87,502.4 L251.15,502.4 L252.44,502.4 L253.72,502.4 L255,502.4 L256.29,502.4 L257.57,502.4 L258.85,502.4 L260.14,502.4 L261.42,502.4 L262.7,502.4 L263.99,502.4 L265.27,502.4 L266.55,502.4 L267.84,502.4 L269.12,502.4 L270.4,502.4 L271.69,502.4 L272.97,502.4 L274.25,502.4 L275.54,502.4 L276.82,502.4 L278.1,502.4 L279.39,502.4 L280.67,502.4 L281.95,502.4 L283.24,502.4 L284.52,502.4 L285.8,502.4 L287.09,502.4 L288.37,502.4 L289.66,502.4 L290.94,502.4 L292.22,502.4 L293.51,502.4 L294.79,502.4 L296.07,502.4 L297.36,502.4 L298.64,502.4 L299.92,502.4 L301.21,502.4 L302.49,502.4 L303.77,502.4 L305.06,502.4 L306.34,502.4 L307.62,502.4 L308.91,502.4 L310.19,502.4 L311.47,502.4 L312.76,502.4 L314.04,502.4 L315.32,502.4 L316.61,502.4 L317.89,502.4 L319.17,502.4 L320.46,502.4 L321.74,502.4 L323.02,502.4 L324.31,502.4 L325.59,502.4 L326.87,502.4 L328.16,502.4 L329.44,502.4 L330.72,502.4 L332.01,502.4 L333.29,502.4 L334.57,502.4 L335.86,502.4 L337.14,502.4 L338.42,502.4 L339.71,502.4 L340.99,502.4 L342.27,502.4 L343.56,502.4 L344.84,502.4 L346.12,502.4 L347.41,502.4 L348.69,502.4 L349.97,502.4 L351.26,502.4 L352.54,502.4 L353.83,502.4 L355.11,502.4 L356.39,502.4 L357.68,502.4 L358.96,502.4 L360.24,502.4 L361.53,502.4 L362.81,502.4 L364.09,502.4 L365.38,502.4 L366.66,502.4 L367.94,502.4 L369.23,502.4 L370.51,502.4 L371.79,502.4 L373.08,502.4 L374.36,502.4 L375.64,502.4 L376.93,502.4 L378.21,502.4 L379.49,502.4 L380.78,502.4 L382.06,502.4 L383.34,502.4 L384.63,502.4 L385.91,502.4 L387.19,502.4 L388.48,502.4 L389.76,502.4 L391.04,502.4 L392.33,502.4 L393.61,502.4 L394.89,502.4 L396.18,502.4 L397.46,502.4 L398.74,502.4 L400.03,502.4 L401.31,502.4 L402.59,502.4 L403.88,502.4 L405.16,502.4 L406.44,502.4 L407.73,502.38 L409.01,502.25 L410.29,502.1 L411.58,501.93 L412.86,501.75 L414.14,501.56 L415.43,501.34 L416.71,501.11 L418,500.85 L419.28,500.57 L420.56,500.26 L421.85,499.92 L423.13,499.56 L424.41,499.16 L425.7,498.73 L426.98,498.26 L428.26,497.75 L429.55,497.21 L430.83,496.61 L432.11,495.97 L433.4,495.28 L434.68,494.53 L435.96,493.73 L437.25,492.86 L438.53,491.93 L439.81,490.94 L441.1,489.87 L442.38,488.72 L443.66,487.5 L444.95,486.19 L446.23,484.79 L447.51,483.31 L448.8,481.72 L450.08,480.03 L451.36,478.24 L452.65,476.34 L453.93,474.33 L455.21,472.19 L456.5,469.94 L457.78,467.55 L459.06,465.04 L460.35,462.39 L461.63,459.6 L462.91,456.66 L464.2,453.58 L465.48,450.35 L466.76,446.97 L468.05,443.42 L469.33,439.72 L470.61,435.86 L471.9,431.83 L473.18,427.64 L474.46,423.28 L475.75,418.76 L477.03,414.06 L478.31,409.2 L479.6,404.17 L480.88,398.97 L482.17,393.61 L483.45,388.08 L484.73,382.4 L486.02,376.55 L487.3,370.56 L488.58,364.42 L489.87,358.14 L491.15,351.72 L492.43,345.17 L493.72,338.5 L495,331.71 L496.28,324.82 L497.57,317.83 L498.85,310.76 L500.13,303.61 L501.42,296.4 L502.7,289.14 L503.98,281.84 L505.27,274.51 L506.55,267.17 L507.83,259.83 L509.12,252.51 L510.4,245.21 L511.68,237.97 L512.97,230.78 L514.25,223.68 L515.53,216.66 L516.82,209.76 L518.1,202.98 L519.38,196.34 L520.67,189.86 L521.95,183.56 L523.23,177.45 L524.52,171.54 L525.8,165.85 L527.08,160.4 L528.37,155.2 L529.65,150.26 L530.93,145.6 L532.22,141.23 L533.5,137.16 L534.78,133.41 L536.07,129.98 L537.35,126.89 L538.63,124.13 L539.92,121.73 L541.2,119.69 L542.48,118.01 L543.77,116.7 L545.05,115.76 L546.34,115.19 L547.62,115 L548.9,115.19 L550.19,115.76 L551.47,116.7 L552.75,118.01 L554.04,119.69 L555.32,121.73 L556.6,124.13 L557.89,126.89 L559.17,129.98 L560.45,133.41 L561.74,137.16 L563.02,141.23 L564.3,145.6 L565.59,150.26 L566.87,155.2 L568.15,160.4 L569.44,165.85 L570.72,171.54 L572,177.45 L573.29,183.56 L574.57,189.86 L575.85,196.34 L577.14,202.98 L578.42,209.76 L579.7,216.66 L580.99,223.68 L582.27,230.78 L583.55,237.97 L584.84,245.21 L586.12,252.51 L587.4,259.83 L588.69,267.17 L589.97,274.51 L591.25,281.84 L592.54,289.14 L593.82,296.4 L595.1,303.61 L596.39,310.76 L597.67,317.83 L598.95,324.82 L600.24,331.71 L601.52,338.5 L602.8,345.17 L604.09,351.72 L605.37,358.14 L606.65,364.42 L607.94,370.56 L609.22,376.55 L610.5,382.4 L611.79,388.08 L613.07,393.61 L614.36,398.97 L615.64,404.17 L616.92,409.2 L618.21,414.06 L619.49,418.76 L620.77,423.28 L622.06,427.64 L623.34,431.83 L624.62,435.86 L625.91,439.72 L627.19,443.42 L628.47,446.97 L629.76,450.35 L631.04,453.58 L632.32,456.66 L633.61,459.6 L634.89,462.39 L636.17,465.04 L637.46,467.55 L638.74,469.94 L640.02,472.19 L641.31,474.33 L642.59,476.34 L643.87,478.24 L645.16,480.03 L646.44,481.72 L647.72,483.31 L649.01,484.79 L650.29,486.19 L651.57,487.5 L652.86,488.72 L654.14,489.87 L655.42,490.94 L656.71,491.93 L657.99,492.86 L659.27,493.73 L660.56,494.53 L661.84,495.28 L663.12,495.97 L664.41,496.61 L665.69,497.21 L666.97,497.75 L668.26,498.26 L669.54,498.73 L670.82,499.16 L672.11,499.56 L673.39,499.92 L674.68,500.26 L675.96,500.57 L677.24,500.85 L678.53,501.11 L679.81,501.34 L681.09,501.56 L682.38,501.75 L683.66,501.93 L684.94,502.1 L686.23,502.25 L687.51,502.38 L688.79,502.4 L690.08,502.4 L691.36,502.4 L692.64,502.4 L693.93,502.4 L695.21,502.4 L696.49,502.4 L697.78,502.4 L699.06,502.4 L700.34,502.4 L701.63,502.4 L702.91,502.4 L704.19,502.4 L705.48,502.4 L706.76,502.4 L708.04,502.4 L709.33,502.4 L710.61,502.4 L711.89,502.4 L713.18,502.4 L714.46,502.4 L715.74,502.4 L717.03,502.4 L718.31,502.4 L719.59,502.4 L720.88,502.4 L722.16,502.4 L723.44,502.4 L724.73,502.4 L726.01,502.4 L727.29,502.4 L728.58,502.4 L729.86,502.4 L731.14,502.4 L732.43,502.4 L733.71,502.4 L734.99,502.4 L736.28,502.4 L737.56,502.4 L738.85,502.4 L740.13,502.4 L741.41,502.4 L742.7,502.4 L743.98,502.4 L745.26,502.4 L746.55,502.4 L747.83,502.4 L749.11,502.4 L750.4,502.4 L751.68,502.4 L752.96,502.4 L754.25,502.4 L755.53,502.4 L756.81,502.4 L758.1,502.4 L758.1,502.4 Z" fill="#0000ff" fill-opacity="0.53"/>
<path d="M193.4,503.6 L194.68,503.6 L195.97,503.6 L197.25,503.6 L198.53,503.6 L199.82,503.6 L201.1,503.6 L202.38,503.6 L203.67,503.6 L204.95,503.6 L206.23,503.6 L207.52,503.6 L208.8,503.6 L210.08,503.6 L211.37,503.6 L212.65,503.6 L213.93,503.6 L215.22,503.6 L216.5,503.6 L217.78,503.6 L219.07,503.6 L220.35,503.6 L221.63,503.6 L222.92,503.6 L224.2,503.6 L225.49,503.6 L226.77,503.6 L228.05,503.6 L229.34,503.6 L230.62,503.6 L231.9,503.6 L233.19,503.6 L234.47,503.6 L235.75,503.6 L237.04,503.6 L238.32,503.6 L239.6,503.6 L240.89,503.6 L242.17,503.6 L243.45,503.6 L244.74,503.6 L246.02,503.6 L247.3,503.6 L248.59,503.6 L249.87,503.6 L251.15,503.6 L252.44,503.6 L253.72,503.6 L255,503.6 L256.29,503.6 L257.57,503.6 L258.85,503.6 L260.14,503.6 L261.42,503.6 L262.7,503.6 L263.99,503.6 L265.27,503.6 L266.55,503.6 L267.84,503.6 L269.12,503.6 L270.4,503.6 L271.69,503.6 L272.97,503.6 L274.25,503.6 L275.54,503.6 L276.82,503.6 L278.1,503.6 L279.39,503.6 L280.67,503.6 L281.95,503.6 L283.24,503.6 L284.52,503.6 L285.8,503.6 L287.09,503.6 L288.37,503.6 L289.66,503.6 L290.94,503.6 L292.22,503.6 L293.51,503.6 L294.79,503.6 L296.07,503.6 L297.36,503.6 L298.64,503.6 L299.92,503.6 L301.21,503.6 L302.49,503.6 L303.77,503.6 L305.06,503.6 L306.34,503.6 L307.62,503.6 L308.91,503.6 L310.19,503.6 L311.47,503.6 L312.76,503.6 L314.04,503.6 L315.32,503.6 L316.61,503.6 L317.89,503.6 L319.17,503.6 L320.46,503.6 L321.74,503.6 L323.02,503.6 L324.31,503.6 L325.59,503.6 L326.87,503.6 L328.16,503.6 L329.44,503.6 L330.72,503.6 L332.01,503.6 L333.29,503.6 L334.57,503.6 L335.86,503.6 L337.14,503.6 L338.42,503.6 L339.71,503.6 L340.99,503.6 L342.27,503.6 L343.56,503.6 L344.84,503.6 L346.12,503.6 L347.41,503.6 L348.69,503.6 L349.97,503.6 L351.26,503.6 L352.54,503.59 L353.83,503.59 L355.11,503.59 L356.39,503.59 L357.68,503.59 L358.96,503.59 L360.24,503.59 L361.53,503.59 L362.81,503.58 L364.09,503.58 L365.38,503.58 L366.66,503.57 L367.94,503.57 L369.23,503.57 L370.51,503.56 L371.79,503.56 L373.08,503.55 L374.36,503.54 L375.64,503.54 L376.93,503.53 L378.21,503.52 L379.49,503.51 L380.78,503.49 L382.06,503.48 L383.34,503.46 L384.63,503.44 L385.91,503.42 L387.19,503.4 L388.48,503.38 L389.76,503.35 L391.04,503.32 L392.33,503.28 L393.61,503.24 L394.89,503.2 L396.18,503.15 L397.46,503.09 L398.74,503.03 L400.03,502.97 L401.31,502.89 L402.59,502.81 L403.88,502.72 L405.16,502.62 L406.44,502.5 L407.73,502.38 L409.01,502.25 L410.29,502.1 L411.58,501.93 L412.86,501.75 L414.14,501.56 L415.43,501.34 L416.71,501.11 L418,500.85 L419.28,500.57 L420.56,500.26 L421.85,499.92 L423.13,499.56 L424.41,499.16 L425.7,498.73 L426.98,498.26 L428.26,497.75 L429.55,497.21 L430.83,496.61 L432.11,495.97 L433.4,495.28 L434.68,494.53 L435.96,493.73 L437.25,492.86 L438.53,491.93 L439.81,490.94 L441.1,489.87 L442.38,488.72 L443.66,487.5 L444.95,486.19 L446.23,484.79 L447.51,483.31 L448.8,481.72 L450.08,480.03 L451.36,478.24 L452.65,476.34 L453.93,474.33 L455.21,472.19 L456.5,469.94 L457.78,467.55 L459.06,465.04 L460.35,462.39 L461.63,459.6 L462.91,456.66 L464.2,453.58 L465.48,450.35 L466.76,446.97 L468.05,443.42 L469.33,439.72 L470.61,435.86 L471.9,431.83 L473.18,427.64 L474.46,423.28 L475.75,418.76 L477.03,414.06 L478.31,409.2 L479.6,404.17 L480.88,398.97 L482.17,393.61 L483.45,388.08 L484.73,382.4 L486.02,376.55 L487.3,370.56 L488.58,364.42 L489.87,358.14 L491.15,351.72 L492.43,345.17 L493.72,338.5 L495,331.71 L496.28,324.82 L497.57,317.83 L498.85,310.76 L500.13,303.61 L501.42,296.4 L502.7,289.14 L503.98,281.84 L505.27,274.51 L506.55,267.17 L507.83,259.83 L509.12,252.51 L510.4,245.21 L511.68,237.97 L512.97,230.78 L514.25,223.68 L515.53,216.66 L516.82,209.76 L518.1,202.98 L519.38,196.34 L520.67,189.86 L521.95,183.56 L523.23,177.45 L524.52,171.54 L525.8,165.85 L527.08,160.4 L528.37,155.2 L529.65,150.26 L530.93,145.6 L532.22,141.23 L533.5,137.16 L534.78,133.41 L536.07,129.98 L537.35,126.89 L538.63,124.13 L539.92,121.73 L541.2,119.69 L542.48,118.01 L543.77,116.7 L545.05,115.76 L546.34,115.19 L547.62,115 L548.9,115.19 L550.19,115.76 L551.47,116.7 L552.75,118.01 L554.04,119.69 L555.32,121.73 L556.6,124.13 L557.89,126.89 L559.17,129.98 L560.45,133.41 L561.74,137.16 L563.02,141.23 L564.3,145.6 L565.59,150.26 L566.87,155.2 L568.15,160.4 L569.44,165.85 L570.72,171.54 L572,177.45 L573.29,183.56 L574.57,189.86 L575.85,196.34 L577.14,202.98 L578.42,209.76 L579.7,216.66 L580.99,223.68 L582.27,230.78 L583.55,237.97 L584.84,245.21 L586.12,252.51 L587.4,259.83 L588.69,267.17 L589.97,274.51 L591.25,281.84 L592.54,289.14 L593.82,296.4 L595.1,303.61 L596.39,310.76 L597.67,317.83 L598.95,324.82 L600.24,331.71 L601.52,338.5 L602.8,345.17 L604.09,351.72 L605.37,358.14 L606.65,364.42 L607.94,370.56 L609.22,376.55 L610.5,382.4 L611.79,388.08 L613.07,393.61 L614.36,398.97 L615.64,404.17 L616.92,409.2 L618.21,414.06 L619.49,418.76 L620.77,423.28 L622.06,427.64 L623.34,431.83 L624.62,435.86 L625.91,439.72 L627.19,443.42 L628.47,446.97 L629.76,450.35 L631.04,453.58 L632.32,456.66 L633.61,459.6 L634.89,462.39 L636.17,465.04 L637.46,467.55 L638.74,469.94 L640.02,472.19 L641.31,474.33 L642.59,476.34 L643.87,478.24 L645.16,480.03 L646.44,481.72 L647.72,483.31 L649.01,484.79 L650.29,486.19 L651.57,487.5 L652.86,488.72 L654.14,489.87 L655.42,490.94 L656.71,491.93 L657.99,492.86 L659.27,493.73 L660.56,494.53 L661.84,495.28 L663.12,495.97 L664.41,496.61 L665.69,497.21 L666.97,497.75 L668.26,498.26 L669.54,498.73 L670.82,499.16 L672.11,499.56 L673.39,499.92 L674.68,500.26 L675.96,500.57 L677.24,500.85 L678.53,501.11 L679.81,501.34 L681.09,501.56 L682.38,501.75 L683.66,501.93 L684.94,502.1 L686.23,502.25 L687.51,502.38 L688.79,502.5 L690.08,502.62 L691.36,502.72 L692.64,502.81 L693.93,502.89 L695.21,502.97 L696.49,503.03 L697.78,503.09 L699.06,503.15 L700.34,503.2 L701.63,503.24 L702.91,503.28 L704.19,503.32 L705.48,503.35 L706.76,503.38 L708.04,503.4 L709.33,503.42 L710.61,503.44 L711.89,503.46 L713.18,503.48 L714.46,503.49 L715.74,503.51 L717.03,503.52 L718.31,503.53 L719.59,503.54 L720.88,503.54 L722.16,503.55 L723.44,503.56 L724.73,503.56 L726.01,503.57 L727.29,503.57 L728.58,503.57 L729.86,503.58 L731.14,503.58 L732.43,503.58 L733.71,503.59 L734.99,503.59 L736.28,503.59 L737.56,503.59 L738.85,503.59 L740.13,503.59 L741.41,503.59 L742.7,503.59 L743.98,503.6 L745.26,503.6 L746.55,503.6 L747.83,503.6 L749.11,503.6 L750.4,503.6 L751.68,503.6 L752.96,503.6 L754.25,503.6 L755.53,503.6 L756.81,503.6 L758.1,503.6" fill="none" stroke="#0000ff" stroke-width="2.2" stroke-linejoin="round"/>
<text font-size="35.5" letter-spacing="0.254" transform="translate(391.39,611.6) scale(1,1.06)">Frequency (Hz)</text>
<text font-size="35" letter-spacing="-0.2" transform="translate(89,474.67) rotate(-90) scale(1,1.06)">Number of Observations</text>
<line x1="212.8" y1="43.5" x2="256.2" y2="43.5" stroke="#0000ff" stroke-width="2.6" stroke-linecap="round"/>
<text font-size="35" font-style="italic" letter-spacing="-0.013" transform="translate(284.73,55.6) scale(1,1.06)">Ae. aegypti</text>
<line x1="212.8" y1="86.6" x2="256.2" y2="86.6" stroke="#ff0000" stroke-width="2.6" stroke-linecap="round"/>
<text font-size="35" font-style="italic" letter-spacing="0.56" transform="translate(283.37,98.2) scale(1,1.06)">Cx. quinquefasciatus</text>
<line x1="212.8" y1="131.35" x2="256.2" y2="131.35" stroke="#00a000" stroke-width="2.6" stroke-linecap="round"/>
<text font-size="35" font-style="italic" letter-spacing="0.425" transform="translate(284.33,143) scale(1,1.06)">Ae. albopictus</text>
<text font-size="57.5" letter-spacing="3.602" transform="translate(6.35,43.9) scale(0.88,1)">a.</text>
<line x1="1095.4" y1="70" x2="1095.4" y2="519.5" stroke="#000" stroke-width="4.2" stroke-linecap="butt"/>
<line x1="1077.9" y1="502" x2="1095.4" y2="502" stroke="#000" stroke-width="4.2" stroke-linecap="butt"/>
<text font-size="35" font-weight="bold" transform="translate(1051.57,515.11) scale(1,1.06)">0</text>
<line x1="1077.9" y1="358.7" x2="1095.4" y2="358.7" stroke="#000" stroke-width="4.2" stroke-linecap="butt"/>
<text font-size="35" font-weight="bold" transform="translate(1012.64,371.81) scale(1,1.06)">200</text>
<line x1="1077.9" y1="215.4" x2="1095.4" y2="215.4" stroke="#000" stroke-width="4.2" stroke-linecap="butt"/>
<text font-size="35" font-weight="bold" transform="translate(1012.64,228.51) scale(1,1.06)">400</text>
<line x1="1077.9" y1="72.1" x2="1095.4" y2="72.1" stroke="#000" stroke-width="4.2" stroke-linecap="butt"/>
<text font-size="35" font-weight="bold" transform="translate(1012.64,85.21) scale(1,1.06)">600</text>
<line x1="1077.9" y1="502" x2="1742.1" y2="502" stroke="#000" stroke-width="4.2" stroke-linecap="butt"/>
<line x1="1095.4" y1="502" x2="1095.4" y2="519.5" stroke="#000" stroke-width="4.2" stroke-linecap="butt"/>
<text font-size="35.3" transform="translate(1065.97,557.3) scale(1,1.06)">300</text>
<line x1="1224.32" y1="502" x2="1224.32" y2="519.5" stroke="#000" stroke-width="4.2" stroke-linecap="butt"/>
<text font-size="35.3" transform="translate(1195.16,557.3) scale(1,1.06)">400</text>
<line x1="1353.24" y1="502" x2="1353.24" y2="519.5" stroke="#000" stroke-width="4.2" stroke-linecap="butt"/>
<text font-size="35.3" transform="translate(1323.77,557.3) scale(1,1.06)">500</text>
<line x1="1482.16" y1="502" x2="1482.16" y2="519.5" stroke="#000" stroke-width="4.2" stroke-linecap="butt"/>
<text font-size="35.3" transform="translate(1452.5,557.3) scale(1,1.06)">600</text>
<line x1="1611.08" y1="502" x2="1611.08" y2="519.5" stroke="#000" stroke-width="4.2" stroke-linecap="butt"/>
<text font-size="35.3" transform="translate(1581.42,557.3) scale(1,1.06)">700</text>
<line x1="1740" y1="502" x2="1740" y2="519.5" stroke="#000" stroke-width="4.2" stroke-linecap="butt"/>
<text font-size="35.3" transform="translate(1710.47,557.3) scale(1,1.06)">800</text>
<path d="M1095.4,500.4 L1095.4,500.4 L1096.69,500.4 L1097.98,500.4 L1099.27,500.4 L1100.56,500.4 L1101.85,500.4 L1103.14,500.4 L1104.42,500.4 L1105.71,500.4 L1107,500.4 L1108.29,500.4 L1109.58,500.4 L1110.87,500.4 L1112.16,500.4 L1113.45,500.4 L1114.74,500.4 L1116.03,500.4 L1117.32,500.4 L1118.61,500.4 L1119.89,500.4 L1121.18,500.4 L1122.47,500.4 L1123.76,500.4 L1125.05,500.4 L1126.34,500.4 L1127.63,500.4 L1128.92,500.4 L1130.21,500.4 L1131.5,500.4 L1132.79,500.4 L1134.08,500.4 L1135.37,500.4 L1136.65,500.4 L1137.94,500.4 L1139.23,500.4 L1140.52,500.4 L1141.81,500.4 L1143.1,500.4 L1144.39,500.4 L1145.68,500.4 L1146.97,500.4 L1148.26,500.4 L1149.55,500.4 L1150.84,500.4 L1152.12,500.4 L1153.41,500.4 L1154.7,500.4 L1155.99,500.4 L1157.28,500.4 L1158.57,500.4 L1159.86,500.4 L1161.15,500.4 L1162.44,500.4 L1163.73,500.4 L1165.02,500.4 L1166.31,500.4 L1167.6,500.4 L1168.88,500.4 L1170.17,500.4 L1171.46,500.4 L1172.75,500.4 L1174.04,500.4 L1175.33,500.4 L1176.62,500.4 L1177.91,500.4 L1179.2,500.4 L1180.49,500.4 L1181.78,500.4 L1183.07,500.4 L1184.35,500.4 L1185.64,500.4 L1186.93,500.4 L1188.22,500.4 L1189.51,500.4 L1190.8,500.4 L1192.09,500.4 L1193.38,500.4 L1194.67,500.4 L1195.96,500.4 L1197.25,500.4 L1198.54,500.4 L1199.83,500.4 L1201.11,500.4 L1202.4,500.4 L1203.69,500.4 L1204.98,500.4 L1206.27,500.38 L1207.56,500.29 L1208.85,500.19 L1210.14,500.09 L1211.43,499.97 L1212.72,499.85 L1214.01,499.73 L1215.3,499.59 L1216.58,499.44 L1217.87,499.29 L1219.16,499.13 L1220.45,498.95 L1221.74,498.77 L1223.03,498.58 L1224.32,498.37 L1225.61,498.15 L1226.9,497.92 L1228.19,497.68 L1229.48,497.42 L1230.77,497.15 L1232.06,496.86 L1233.34,496.56 L1234.63,496.24 L1235.92,495.9 L1237.21,495.54 L1238.5,495.17 L1239.79,494.78 L1241.08,494.37 L1242.37,493.94 L1243.66,493.48 L1244.95,493.01 L1246.24,492.51 L1247.53,491.99 L1248.81,491.44 L1250.1,490.87 L1251.39,490.27 L1252.68,489.65 L1253.97,489 L1255.26,488.32 L1256.55,487.62 L1257.84,486.88 L1259.13,486.12 L1260.42,485.32 L1261.71,484.5 L1263,483.64 L1264.29,482.75 L1265.57,481.82 L1266.86,480.86 L1268.15,479.87 L1269.44,478.85 L1270.73,477.79 L1272.02,476.69 L1273.31,475.56 L1274.6,474.39 L1275.89,473.18 L1277.18,471.94 L1278.47,470.67 L1279.76,469.35 L1281.04,468 L1282.33,466.61 L1283.62,465.19 L1284.91,463.73 L1286.2,462.23 L1287.49,460.7 L1288.78,459.13 L1290.07,457.52 L1291.36,455.88 L1292.65,454.21 L1293.94,452.5 L1295.23,450.77 L1296.52,448.99 L1297.8,447.19 L1299.09,445.36 L1300.38,443.5 L1301.67,441.61 L1302.96,439.7 L1304.25,437.76 L1305.54,435.8 L1306.83,433.82 L1308.12,431.81 L1309.41,429.79 L1310.7,427.75 L1311.99,425.69 L1313.27,423.63 L1314.56,421.55 L1315.85,419.46 L1317.14,417.37 L1318.43,415.27 L1319.72,413.17 L1321.01,411.07 L1322.3,408.97 L1323.59,406.88 L1324.88,404.8 L1326.17,402.72 L1327.46,400.66 L1328.75,398.61 L1330.03,396.59 L1331.32,394.58 L1332.61,392.6 L1333.9,390.64 L1335.19,388.71 L1336.48,386.81 L1337.77,384.95 L1339.06,383.12 L1340.35,381.34 L1341.64,379.59 L1342.93,377.89 L1344.22,376.24 L1345.5,374.64 L1346.79,373.09 L1348.08,371.59 L1349.37,370.16 L1350.66,368.78 L1351.95,367.46 L1353.24,366.21 L1354.53,365.02 L1355.82,363.9 L1357.11,362.85 L1358.4,361.87 L1359.69,360.97 L1360.98,360.14 L1362.26,359.38 L1363.55,358.7 L1364.84,358.1 L1366.13,357.58 L1367.42,357.14 L1368.71,356.78 L1370,356.5 L1371.29,356.3 L1372.58,356.18 L1373.87,356.15 L1375.16,356.2 L1376.45,356.33 L1377.73,356.55 L1379.02,356.84 L1380.31,357.22 L1381.6,357.68 L1382.89,358.21 L1384.18,358.83 L1385.47,359.52 L1386.76,360.3 L1388.05,361.14 L1389.34,362.06 L1390.63,363.06 L1391.92,364.12 L1393.21,365.25 L1394.49,366.45 L1395.78,367.72 L1397.07,369.05 L1398.36,370.44 L1399.65,371.89 L1400.94,373.39 L1402.23,374.95 L1403.52,376.57 L1404.81,378.23 L1406.1,379.94 L1407.39,381.69 L1408.68,383.48 L1409.96,385.32 L1411.25,387.19 L1412.54,389.09 L1413.83,391.03 L1415.12,392.99 L1416.41,394.98 L1417.7,396.99 L1418.99,399.02 L1420.28,401.07 L1421.57,403.14 L1422.86,405.21 L1424.15,407.3 L1425.44,409.39 L1426.72,411.49 L1428.01,413.59 L1429.3,415.69 L1430.59,417.79 L1431.88,419.88 L1433.17,421.97 L1434.46,424.04 L1435.75,426.11 L1437.04,428.16 L1438.33,430.19 L1439.62,432.21 L1440.91,434.21 L1442.19,436.19 L1443.48,438.15 L1444.77,440.08 L1446.06,441.99 L1447.35,443.88 L1448.64,445.73 L1449.93,447.56 L1451.22,449.35 L1452.51,451.12 L1453.8,452.85 L1455.09,454.55 L1456.38,456.21 L1457.67,457.85 L1458.95,459.44 L1460.24,461.01 L1461.53,462.53 L1462.82,464.02 L1464.11,465.48 L1465.4,466.89 L1466.69,468.27 L1467.98,469.62 L1469.27,470.92 L1470.56,472.19 L1471.85,473.43 L1473.14,474.63 L1474.42,475.79 L1475.71,476.91 L1477,478 L1478.29,479.05 L1479.58,480.07 L1480.87,481.06 L1482.16,482.01 L1483.45,482.93 L1484.74,483.81 L1486.03,484.66 L1487.32,485.48 L1488.61,486.27 L1489.9,487.03 L1491.18,487.76 L1492.47,488.46 L1493.76,489.13 L1495.05,489.78 L1496.34,490.4 L1497.63,490.99 L1498.92,491.55 L1500.21,492.09 L1501.5,492.61 L1502.79,493.1 L1504.08,493.57 L1505.37,494.02 L1506.65,494.45 L1507.94,494.86 L1509.23,495.25 L1510.52,495.62 L1511.81,495.97 L1513.1,496.3 L1514.39,496.62 L1515.68,496.92 L1516.97,497.2 L1518.26,497.47 L1519.55,497.73 L1520.84,497.97 L1522.13,498.2 L1523.41,498.41 L1524.7,498.62 L1525.99,498.81 L1527.28,498.99 L1528.57,499.16 L1529.86,499.32 L1531.15,499.47 L1532.44,499.62 L1533.73,499.75 L1535.02,499.88 L1536.31,500 L1537.6,500.11 L1538.88,500.21 L1540.17,500.31 L1541.46,500.4 L1542.75,500.4 L1544.04,500.4 L1545.33,500.4 L1546.62,500.4 L1547.91,500.4 L1549.2,500.4 L1550.49,500.4 L1551.78,500.4 L1553.07,500.4 L1554.36,500.4 L1555.64,500.4 L1556.93,500.4 L1558.22,500.4 L1559.51,500.4 L1560.8,500.4 L1562.09,500.4 L1563.38,500.4 L1564.67,500.4 L1565.96,500.4 L1567.25,500.4 L1568.54,500.4 L1569.83,500.4 L1571.11,500.4 L1572.4,500.4 L1573.69,500.4 L1574.98,500.4 L1576.27,500.4 L1577.56,500.4 L1578.85,500.4 L1580.14,500.4 L1581.43,500.4 L1582.72,500.4 L1584.01,500.4 L1585.3,500.4 L1586.59,500.4 L1587.87,500.4 L1589.16,500.4 L1590.45,500.4 L1591.74,500.4 L1593.03,500.4 L1594.32,500.4 L1595.61,500.4 L1596.9,500.4 L1598.19,500.4 L1599.48,500.4 L1600.77,500.4 L1602.06,500.4 L1603.34,500.4 L1604.63,500.4 L1605.92,500.4 L1607.21,500.4 L1608.5,500.4 L1609.79,500.4 L1611.08,500.4 L1611.08,500.4 Z" fill="#00ff00" fill-opacity="0.53"/>
<path d="M1095.4,501.6 L1096.69,501.6 L1097.98,501.6 L1099.27,501.6 L1100.56,501.6 L1101.85,501.6 L1103.14,501.6 L1104.42,501.6 L1105.71,501.6 L1107,501.6 L1108.29,501.6 L1109.58,501.6 L1110.87,501.6 L1112.16,501.6 L1113.45,501.6 L1114.74,501.6 L1116.03,501.6 L1117.32,501.6 L1118.61,501.6 L1119.89,501.6 L1121.18,501.6 L1122.47,501.6 L1123.76,501.6 L1125.05,501.6 L1126.34,501.6 L1127.63,501.6 L1128.92,501.59 L1130.21,501.59 L1131.5,501.59 L1132.79,501.59 L1134.08,501.59 L1135.37,501.59 L1136.65,501.59 L1137.94,501.59 L1139.23,501.59 L1140.52,501.59 L1141.81,501.58 L1143.1,501.58 L1144.39,501.58 L1145.68,501.58 L1146.97,501.58 L1148.26,501.58 L1149.55,501.57 L1150.84,501.57 L1152.12,501.57 L1153.41,501.56 L1154.7,501.56 L1155.99,501.56 L1157.28,501.55 L1158.57,501.55 L1159.86,501.54 L1161.15,501.53 L1162.44,501.53 L1163.73,501.52 L1165.02,501.51 L1166.31,501.51 L1167.6,501.5 L1168.88,501.49 L1170.17,501.48 L1171.46,501.46 L1172.75,501.45 L1174.04,501.44 L1175.33,501.42 L1176.62,501.41 L1177.91,501.39 L1179.2,501.37 L1180.49,501.35 L1181.78,501.33 L1183.07,501.3 L1184.35,501.28 L1185.64,501.25 L1186.93,501.22 L1188.22,501.19 L1189.51,501.15 L1190.8,501.12 L1192.09,501.08 L1193.38,501.03 L1194.67,500.99 L1195.96,500.94 L1197.25,500.88 L1198.54,500.83 L1199.83,500.76 L1201.11,500.7 L1202.4,500.63 L1203.69,500.55 L1204.98,500.47 L1206.27,500.38 L1207.56,500.29 L1208.85,500.19 L1210.14,500.09 L1211.43,499.97 L1212.72,499.85 L1214.01,499.73 L1215.3,499.59 L1216.58,499.44 L1217.87,499.29 L1219.16,499.13 L1220.45,498.95 L1221.74,498.77 L1223.03,498.58 L1224.32,498.37 L1225.61,498.15 L1226.9,497.92 L1228.19,497.68 L1229.48,497.42 L1230.77,497.15 L1232.06,496.86 L1233.34,496.56 L1234.63,496.24 L1235.92,495.9 L1237.21,495.54 L1238.5,495.17 L1239.79,494.78 L1241.08,494.37 L1242.37,493.94 L1243.66,493.48 L1244.95,493.01 L1246.24,492.51 L1247.53,491.99 L1248.81,491.44 L1250.1,490.87 L1251.39,490.27 L1252.68,489.65 L1253.97,489 L1255.26,488.32 L1256.55,487.62 L1257.84,486.88 L1259.13,486.12 L1260.42,485.32 L1261.71,484.5 L1263,483.64 L1264.29,482.75 L1265.57,481.82 L1266.86,480.86 L1268.15,479.87 L1269.44,478.85 L1270.73,477.79 L1272.02,476.69 L1273.31,475.56 L1274.6,474.39 L1275.89,473.18 L1277.18,471.94 L1278.47,470.67 L1279.76,469.35 L1281.04,468 L1282.33,466.61 L1283.62,465.19 L1284.91,463.73 L1286.2,462.23 L1287.49,460.7 L1288.78,459.13 L1290.07,457.52 L1291.36,455.88 L1292.65,454.21 L1293.94,452.5 L1295.23,450.77 L1296.52,448.99 L1297.8,447.19 L1299.09,445.36 L1300.38,443.5 L1301.67,441.61 L1302.96,439.7 L1304.25,437.76 L1305.54,435.8 L1306.83,433.82 L1308.12,431.81 L1309.41,429.79 L1310.7,427.75 L1311.99,425.69 L1313.27,423.63 L1314.56,421.55 L1315.85,419.46 L1317.14,417.37 L1318.43,415.27 L1319.72,413.17 L1321.01,411.07 L1322.3,408.97 L1323.59,406.88 L1324.88,404.8 L1326.17,402.72 L1327.46,400.66 L1328.75,398.61 L1330.03,396.59 L1331.32,394.58 L1332.61,392.6 L1333.9,390.64 L1335.19,388.71 L1336.48,386.81 L1337.77,384.95 L1339.06,383.12 L1340.35,381.34 L1341.64,379.59 L1342.93,377.89 L1344.22,376.24 L1345.5,374.64 L1346.79,373.09 L1348.08,371.59 L1349.37,370.16 L1350.66,368.78 L1351.95,367.46 L1353.24,366.21 L1354.53,365.02 L1355.82,363.9 L1357.11,362.85 L1358.4,361.87 L1359.69,360.97 L1360.98,360.14 L1362.26,359.38 L1363.55,358.7 L1364.84,358.1 L1366.13,357.58 L1367.42,357.14 L1368.71,356.78 L1370,356.5 L1371.29,356.3 L1372.58,356.18 L1373.87,356.15 L1375.16,356.2 L1376.45,356.33 L1377.73,356.55 L1379.02,356.84 L1380.31,357.22 L1381.6,357.68 L1382.89,358.21 L1384.18,358.83 L1385.47,359.52 L1386.76,360.3 L1388.05,361.14 L1389.34,362.06 L1390.63,363.06 L1391.92,364.12 L1393.21,365.25 L1394.49,366.45 L1395.78,367.72 L1397.07,369.05 L1398.36,370.44 L1399.65,371.89 L1400.94,373.39 L1402.23,374.95 L1403.52,376.57 L1404.81,378.23 L1406.1,379.94 L1407.39,381.69 L1408.68,383.48 L1409.96,385.32 L1411.25,387.19 L1412.54,389.09 L1413.83,391.03 L1415.12,392.99 L1416.41,394.98 L1417.7,396.99 L1418.99,399.02 L1420.28,401.07 L1421.57,403.14 L1422.86,405.21 L1424.15,407.3 L1425.44,409.39 L1426.72,411.49 L1428.01,413.59 L1429.3,415.69 L1430.59,417.79 L1431.88,419.88 L1433.17,421.97 L1434.46,424.04 L1435.75,426.11 L1437.04,428.16 L1438.33,430.19 L1439.62,432.21 L1440.91,434.21 L1442.19,436.19 L1443.48,438.15 L1444.77,440.08 L1446.06,441.99 L1447.35,443.88 L1448.64,445.73 L1449.93,447.56 L1451.22,449.35 L1452.51,451.12 L1453.8,452.85 L1455.09,454.55 L1456.38,456.21 L1457.67,457.85 L1458.95,459.44 L1460.24,461.01 L1461.53,462.53 L1462.82,464.02 L1464.11,465.48 L1465.4,466.89 L1466.69,468.27 L1467.98,469.62 L1469.27,470.92 L1470.56,472.19 L1471.85,473.43 L1473.14,474.63 L1474.42,475.79 L1475.71,476.91 L1477,478 L1478.29,479.05 L1479.58,480.07 L1480.87,481.06 L1482.16,482.01 L1483.45,482.93 L1484.74,483.81 L1486.03,484.66 L1487.32,485.48 L1488.61,486.27 L1489.9,487.03 L1491.18,487.76 L1492.47,488.46 L1493.76,489.13 L1495.05,489.78 L1496.34,490.4 L1497.63,490.99 L1498.92,491.55 L1500.21,492.09 L1501.5,492.61 L1502.79,493.1 L1504.08,493.57 L1505.37,494.02 L1506.65,494.45 L1507.94,494.86 L1509.23,495.25 L1510.52,495.62 L1511.81,495.97 L1513.1,496.3 L1514.39,496.62 L1515.68,496.92 L1516.97,497.2 L1518.26,497.47 L1519.55,497.73 L1520.84,497.97 L1522.13,498.2 L1523.41,498.41 L1524.7,498.62 L1525.99,498.81 L1527.28,498.99 L1528.57,499.16 L1529.86,499.32 L1531.15,499.47 L1532.44,499.62 L1533.73,499.75 L1535.02,499.88 L1536.31,500 L1537.6,500.11 L1538.88,500.21 L1540.17,500.31 L1541.46,500.4 L1542.75,500.49 L1544.04,500.57 L1545.33,500.64 L1546.62,500.71 L1547.91,500.78 L1549.2,500.84 L1550.49,500.89 L1551.78,500.95 L1553.07,501 L1554.36,501.04 L1555.64,501.08 L1556.93,501.12 L1558.22,501.16 L1559.51,501.2 L1560.8,501.23 L1562.09,501.26 L1563.38,501.28 L1564.67,501.31 L1565.96,501.33 L1567.25,501.35 L1568.54,501.37 L1569.83,501.39 L1571.11,501.41 L1572.4,501.43 L1573.69,501.44 L1574.98,501.45 L1576.27,501.47 L1577.56,501.48 L1578.85,501.49 L1580.14,501.5 L1581.43,501.51 L1582.72,501.52 L1584.01,501.52 L1585.3,501.53 L1586.59,501.54 L1587.87,501.54 L1589.16,501.55 L1590.45,501.55 L1591.74,501.56 L1593.03,501.56 L1594.32,501.56 L1595.61,501.57 L1596.9,501.57 L1598.19,501.57 L1599.48,501.58 L1600.77,501.58 L1602.06,501.58 L1603.34,501.58 L1604.63,501.58 L1605.92,501.59 L1607.21,501.59 L1608.5,501.59 L1609.79,501.59 L1611.08,501.59" fill="none" stroke="#00a000" stroke-width="2.2" stroke-linejoin="round"/>
<path d="M1095.4,500.4 L1095.4,500.4 L1096.69,500.4 L1097.98,500.4 L1099.27,500.4 L1100.56,500.4 L1101.85,500.4 L1103.14,500.4 L1104.42,500.4 L1105.71,500.4 L1107,500.4 L1108.29,500.4 L1109.58,500.4 L1110.87,500.4 L1112.16,500.4 L1113.45,500.4 L1114.74,500.4 L1116.03,500.4 L1117.32,500.4 L1118.61,500.4 L1119.89,500.4 L1121.18,500.4 L1122.47,500.4 L1123.76,500.4 L1125.05,500.4 L1126.34,500.4 L1127.63,500.4 L1128.92,500.4 L1130.21,500.4 L1131.5,500.4 L1132.79,500.4 L1134.08,500.4 L1135.37,500.4 L1136.65,500.4 L1137.94,500.4 L1139.23,500.4 L1140.52,500.4 L1141.81,500.4 L1143.1,500.4 L1144.39,500.4 L1145.68,500.4 L1146.97,500.4 L1148.26,500.4 L1149.55,500.4 L1150.84,500.4 L1152.12,500.4 L1153.41,500.4 L1154.7,500.4 L1155.99,500.4 L1157.28,500.4 L1158.57,500.4 L1159.86,500.4 L1161.15,500.4 L1162.44,500.4 L1163.73,500.4 L1165.02,500.4 L1166.31,500.4 L1167.6,500.4 L1168.88,500.4 L1170.17,500.4 L1171.46,500.4 L1172.75,500.4 L1174.04,500.4 L1175.33,500.4 L1176.62,500.4 L1177.91,500.4 L1179.2,500.4 L1180.49,500.4 L1181.78,500.4 L1183.07,500.4 L1184.35,500.4 L1185.64,500.4 L1186.93,500.4 L1188.22,500.4 L1189.51,500.4 L1190.8,500.4 L1192.09,500.4 L1193.38,500.4 L1194.67,500.4 L1195.96,500.34 L1197.25,500.23 L1198.54,500.11 L1199.83,499.98 L1201.11,499.83 L1202.4,499.68 L1203.69,499.52 L1204.98,499.34 L1206.27,499.15 L1207.56,498.95 L1208.85,498.73 L1210.14,498.5 L1211.43,498.25 L1212.72,497.99 L1214.01,497.7 L1215.3,497.4 L1216.58,497.08 L1217.87,496.74 L1219.16,496.37 L1220.45,495.99 L1221.74,495.57 L1223.03,495.14 L1224.32,494.68 L1225.61,494.19 L1226.9,493.67 L1228.19,493.13 L1229.48,492.55 L1230.77,491.95 L1232.06,491.31 L1233.34,490.64 L1234.63,489.93 L1235.92,489.19 L1237.21,488.41 L1238.5,487.59 L1239.79,486.74 L1241.08,485.85 L1242.37,484.91 L1243.66,483.94 L1244.95,482.92 L1246.24,481.86 L1247.53,480.76 L1248.81,479.62 L1250.1,478.43 L1251.39,477.2 L1252.68,475.92 L1253.97,474.6 L1255.26,473.23 L1256.55,471.82 L1257.84,470.36 L1259.13,468.86 L1260.42,467.32 L1261.71,465.73 L1263,464.09 L1264.29,462.42 L1265.57,460.7 L1266.86,458.95 L1268.15,457.15 L1269.44,455.32 L1270.73,453.45 L1272.02,451.55 L1273.31,449.61 L1274.6,447.64 L1275.89,445.65 L1277.18,443.63 L1278.47,441.58 L1279.76,439.51 L1281.04,437.42 L1282.33,435.32 L1283.62,433.2 L1284.91,431.08 L1286.2,428.95 L1287.49,426.81 L1288.78,424.67 L1290.07,422.54 L1291.36,420.41 L1292.65,418.3 L1293.94,416.2 L1295.23,414.12 L1296.52,412.06 L1297.8,410.03 L1299.09,408.02 L1300.38,406.06 L1301.67,404.12 L1302.96,402.24 L1304.25,400.4 L1305.54,398.6 L1306.83,396.86 L1308.12,395.18 L1309.41,393.57 L1310.7,392.01 L1311.99,390.52 L1313.27,389.11 L1314.56,387.77 L1315.85,386.51 L1317.14,385.33 L1318.43,384.23 L1319.72,383.22 L1321.01,382.3 L1322.3,381.47 L1323.59,380.73 L1324.88,380.09 L1326.17,379.54 L1327.46,379.09 L1328.75,378.74 L1330.03,378.49 L1331.32,378.34 L1332.61,378.29 L1333.9,378.34 L1335.19,378.49 L1336.48,378.74 L1337.77,379.09 L1339.06,379.54 L1340.35,380.09 L1341.64,380.73 L1342.93,381.47 L1344.22,382.3 L1345.5,383.22 L1346.79,384.23 L1348.08,385.33 L1349.37,386.51 L1350.66,387.77 L1351.95,389.11 L1353.24,390.52 L1354.53,392.01 L1355.82,393.57 L1357.11,395.18 L1358.4,396.86 L1359.69,398.6 L1360.98,400.4 L1362.26,402.24 L1363.55,404.12 L1364.84,406.06 L1366.13,408.02 L1367.42,410.03 L1368.71,412.06 L1370,414.12 L1371.29,416.2 L1372.58,418.3 L1373.87,420.41 L1375.16,422.54 L1376.45,424.67 L1377.73,426.81 L1379.02,428.95 L1380.31,431.08 L1381.6,433.2 L1382.89,435.32 L1384.18,437.42 L1385.47,439.51 L1386.76,441.58 L1388.05,443.63 L1389.34,445.65 L1390.63,447.64 L1391.92,449.61 L1393.21,451.55 L1394.49,453.45 L1395.78,455.32 L1397.07,457.15 L1398.36,458.95 L1399.65,460.7 L1400.94,462.42 L1402.23,464.09 L1403.52,465.73 L1404.81,467.32 L1406.1,468.86 L1407.39,470.36 L1408.68,471.82 L1409.96,473.23 L1411.25,474.6 L1412.54,475.92 L1413.83,477.2 L1415.12,478.43 L1416.41,479.62 L1417.7,480.76 L1418.99,481.86 L1420.28,482.92 L1421.57,483.94 L1422.86,484.91 L1424.15,485.85 L1425.44,486.74 L1426.72,487.59 L1428.01,488.41 L1429.3,489.19 L1430.59,489.93 L1431.88,490.64 L1433.17,491.31 L1434.46,491.95 L1435.75,492.55 L1437.04,493.13 L1438.33,493.67 L1439.62,494.19 L1440.91,494.68 L1442.19,495.14 L1443.48,495.57 L1444.77,495.99 L1446.06,496.37 L1447.35,496.74 L1448.64,497.08 L1449.93,497.4 L1451.22,497.7 L1452.51,497.99 L1453.8,498.25 L1455.09,498.5 L1456.38,498.73 L1457.67,498.95 L1458.95,499.15 L1460.24,499.34 L1461.53,499.52 L1462.82,499.68 L1464.11,499.83 L1465.4,499.98 L1466.69,500.11 L1467.98,500.23 L1469.27,500.34 L1470.56,500.4 L1471.85,500.4 L1473.14,500.4 L1474.42,500.4 L1475.71,500.4 L1477,500.4 L1478.29,500.4 L1479.58,500.4 L1480.87,500.4 L1482.16,500.4 L1483.45,500.4 L1484.74,500.4 L1486.03,500.4 L1487.32,500.4 L1488.61,500.4 L1489.9,500.4 L1491.18,500.4 L1492.47,500.4 L1493.76,500.4 L1495.05,500.4 L1496.34,500.4 L1497.63,500.4 L1498.92,500.4 L1500.21,500.4 L1501.5,500.4 L1502.79,500.4 L1504.08,500.4 L1505.37,500.4 L1506.65,500.4 L1507.94,500.4 L1509.23,500.4 L1510.52,500.4 L1511.81,500.4 L1513.1,500.4 L1514.39,500.4 L1515.68,500.4 L1516.97,500.4 L1518.26,500.4 L1519.55,500.4 L1520.84,500.4 L1522.13,500.4 L1523.41,500.4 L1524.7,500.4 L1525.99,500.4 L1527.28,500.4 L1528.57,500.4 L1529.86,500.4 L1531.15,500.4 L1532.44,500.4 L1533.73,500.4 L1535.02,500.4 L1536.31,500.4 L1537.6,500.4 L1538.88,500.4 L1540.17,500.4 L1541.46,500.4 L1542.75,500.4 L1544.04,500.4 L1545.33,500.4 L1546.62,500.4 L1547.91,500.4 L1549.2,500.4 L1550.49,500.4 L1551.78,500.4 L1553.07,500.4 L1554.36,500.4 L1555.64,500.4 L1556.93,500.4 L1558.22,500.4 L1559.51,500.4 L1560.8,500.4 L1562.09,500.4 L1563.38,500.4 L1564.67,500.4 L1565.96,500.4 L1567.25,500.4 L1568.54,500.4 L1569.83,500.4 L1571.11,500.4 L1572.4,500.4 L1573.69,500.4 L1574.98,500.4 L1576.27,500.4 L1577.56,500.4 L1578.85,500.4 L1580.14,500.4 L1581.43,500.4 L1582.72,500.4 L1584.01,500.4 L1585.3,500.4 L1586.59,500.4 L1587.87,500.4 L1589.16,500.4 L1590.45,500.4 L1591.74,500.4 L1593.03,500.4 L1594.32,500.4 L1595.61,500.4 L1596.9,500.4 L1598.19,500.4 L1599.48,500.4 L1600.77,500.4 L1602.06,500.4 L1603.34,500.4 L1604.63,500.4 L1605.92,500.4 L1607.21,500.4 L1608.5,500.4 L1609.79,500.4 L1611.08,500.4 L1611.08,500.4 Z" fill="#ff0000" fill-opacity="0.53"/>
<path d="M1095.4,501.6 L1096.69,501.6 L1097.98,501.6 L1099.27,501.6 L1100.56,501.6 L1101.85,501.6 L1103.14,501.6 L1104.42,501.6 L1105.71,501.6 L1107,501.6 L1108.29,501.6 L1109.58,501.6 L1110.87,501.6 L1112.16,501.6 L1113.45,501.6 L1114.74,501.6 L1116.03,501.6 L1117.32,501.6 L1118.61,501.6 L1119.89,501.6 L1121.18,501.6 L1122.47,501.6 L1123.76,501.6 L1125.05,501.6 L1126.34,501.6 L1127.63,501.6 L1128.92,501.6 L1130.21,501.59 L1131.5,501.59 L1132.79,501.59 L1134.08,501.59 L1135.37,501.59 L1136.65,501.59 L1137.94,501.59 L1139.23,501.59 L1140.52,501.59 L1141.81,501.58 L1143.1,501.58 L1144.39,501.58 L1145.68,501.58 L1146.97,501.57 L1148.26,501.57 L1149.55,501.57 L1150.84,501.56 L1152.12,501.56 L1153.41,501.55 L1154.7,501.55 L1155.99,501.54 L1157.28,501.54 L1158.57,501.53 L1159.86,501.52 L1161.15,501.51 L1162.44,501.5 L1163.73,501.49 L1165.02,501.48 L1166.31,501.46 L1167.6,501.45 L1168.88,501.43 L1170.17,501.41 L1171.46,501.39 L1172.75,501.37 L1174.04,501.34 L1175.33,501.32 L1176.62,501.29 L1177.91,501.25 L1179.2,501.22 L1180.49,501.18 L1181.78,501.14 L1183.07,501.09 L1184.35,501.04 L1185.64,500.99 L1186.93,500.93 L1188.22,500.86 L1189.51,500.79 L1190.8,500.72 L1192.09,500.63 L1193.38,500.54 L1194.67,500.45 L1195.96,500.34 L1197.25,500.23 L1198.54,500.11 L1199.83,499.98 L1201.11,499.83 L1202.4,499.68 L1203.69,499.52 L1204.98,499.34 L1206.27,499.15 L1207.56,498.95 L1208.85,498.73 L1210.14,498.5 L1211.43,498.25 L1212.72,497.99 L1214.01,497.7 L1215.3,497.4 L1216.58,497.08 L1217.87,496.74 L1219.16,496.37 L1220.45,495.99 L1221.74,495.57 L1223.03,495.14 L1224.32,494.68 L1225.61,494.19 L1226.9,493.67 L1228.19,493.13 L1229.48,492.55 L1230.77,491.95 L1232.06,491.31 L1233.34,490.64 L1234.63,489.93 L1235.92,489.19 L1237.21,488.41 L1238.5,487.59 L1239.79,486.74 L1241.08,485.85 L1242.37,484.91 L1243.66,483.94 L1244.95,482.92 L1246.24,481.86 L1247.53,480.76 L1248.81,479.62 L1250.1,478.43 L1251.39,477.2 L1252.68,475.92 L1253.97,474.6 L1255.26,473.23 L1256.55,471.82 L1257.84,470.36 L1259.13,468.86 L1260.42,467.32 L1261.71,465.73 L1263,464.09 L1264.29,462.42 L1265.57,460.7 L1266.86,458.95 L1268.15,457.15 L1269.44,455.32 L1270.73,453.45 L1272.02,451.55 L1273.31,449.61 L1274.6,447.64 L1275.89,445.65 L1277.18,443.63 L1278.47,441.58 L1279.76,439.51 L1281.04,437.42 L1282.33,435.32 L1283.62,433.2 L1284.91,431.08 L1286.2,428.95 L1287.49,426.81 L1288.78,424.67 L1290.07,422.54 L1291.36,420.41 L1292.65,418.3 L1293.94,416.2 L1295.23,414.12 L1296.52,412.06 L1297.8,410.03 L1299.09,408.02 L1300.38,406.06 L1301.67,404.12 L1302.96,402.24 L1304.25,400.4 L1305.54,398.6 L1306.83,396.86 L1308.12,395.18 L1309.41,393.57 L1310.7,392.01 L1311.99,390.52 L1313.27,389.11 L1314.56,387.77 L1315.85,386.51 L1317.14,385.33 L1318.43,384.23 L1319.72,383.22 L1321.01,382.3 L1322.3,381.47 L1323.59,380.73 L1324.88,380.09 L1326.17,379.54 L1327.46,379.09 L1328.75,378.74 L1330.03,378.49 L1331.32,378.34 L1332.61,378.29 L1333.9,378.34 L1335.19,378.49 L1336.48,378.74 L1337.77,379.09 L1339.06,379.54 L1340.35,380.09 L1341.64,380.73 L1342.93,381.47 L1344.22,382.3 L1345.5,383.22 L1346.79,384.23 L1348.08,385.33 L1349.37,386.51 L1350.66,387.77 L1351.95,389.11 L1353.24,390.52 L1354.53,392.01 L1355.82,393.57 L1357.11,395.18 L1358.4,396.86 L1359.69,398.6 L1360.98,400.4 L1362.26,402.24 L1363.55,404.12 L1364.84,406.06 L1366.13,408.02 L1367.42,410.03 L1368.71,412.06 L1370,414.12 L1371.29,416.2 L1372.58,418.3 L1373.87,420.41 L1375.16,422.54 L1376.45,424.67 L1377.73,426.81 L1379.02,428.95 L1380.31,431.08 L1381.6,433.2 L1382.89,435.32 L1384.18,437.42 L1385.47,439.51 L1386.76,441.58 L1388.05,443.63 L1389.34,445.65 L1390.63,447.64 L1391.92,449.61 L1393.21,451.55 L1394.49,453.45 L1395.78,455.32 L1397.07,457.15 L1398.36,458.95 L1399.65,460.7 L1400.94,462.42 L1402.23,464.09 L1403.52,465.73 L1404.81,467.32 L1406.1,468.86 L1407.39,470.36 L1408.68,471.82 L1409.96,473.23 L1411.25,474.6 L1412.54,475.92 L1413.83,477.2 L1415.12,478.43 L1416.41,479.62 L1417.7,480.76 L1418.99,481.86 L1420.28,482.92 L1421.57,483.94 L1422.86,484.91 L1424.15,485.85 L1425.44,486.74 L1426.72,487.59 L1428.01,488.41 L1429.3,489.19 L1430.59,489.93 L1431.88,490.64 L1433.17,491.31 L1434.46,491.95 L1435.75,492.55 L1437.04,493.13 L1438.33,493.67 L1439.62,494.19 L1440.91,494.68 L1442.19,495.14 L1443.48,495.57 L1444.77,495.99 L1446.06,496.37 L1447.35,496.74 L1448.64,497.08 L1449.93,497.4 L1451.22,497.7 L1452.51,497.99 L1453.8,498.25 L1455.09,498.5 L1456.38,498.73 L1457.67,498.95 L1458.95,499.15 L1460.24,499.34 L1461.53,499.52 L1462.82,499.68 L1464.11,499.83 L1465.4,499.98 L1466.69,500.11 L1467.98,500.23 L1469.27,500.34 L1470.56,500.45 L1471.85,500.54 L1473.14,500.63 L1474.42,500.72 L1475.71,500.79 L1477,500.86 L1478.29,500.93 L1479.58,500.99 L1480.87,501.04 L1482.16,501.09 L1483.45,501.14 L1484.74,501.18 L1486.03,501.22 L1487.32,501.25 L1488.61,501.29 L1489.9,501.32 L1491.18,501.34 L1492.47,501.37 L1493.76,501.39 L1495.05,501.41 L1496.34,501.43 L1497.63,501.45 L1498.92,501.46 L1500.21,501.48 L1501.5,501.49 L1502.79,501.5 L1504.08,501.51 L1505.37,501.52 L1506.65,501.53 L1507.94,501.54 L1509.23,501.54 L1510.52,501.55 L1511.81,501.55 L1513.1,501.56 L1514.39,501.56 L1515.68,501.57 L1516.97,501.57 L1518.26,501.57 L1519.55,501.58 L1520.84,501.58 L1522.13,501.58 L1523.41,501.58 L1524.7,501.59 L1525.99,501.59 L1527.28,501.59 L1528.57,501.59 L1529.86,501.59 L1531.15,501.59 L1532.44,501.59 L1533.73,501.59 L1535.02,501.59 L1536.31,501.6 L1537.6,501.6 L1538.88,501.6 L1540.17,501.6 L1541.46,501.6 L1542.75,501.6 L1544.04,501.6 L1545.33,501.6 L1546.62,501.6 L1547.91,501.6 L1549.2,501.6 L1550.49,501.6 L1551.78,501.6 L1553.07,501.6 L1554.36,501.6 L1555.64,501.6 L1556.93,501.6 L1558.22,501.6 L1559.51,501.6 L1560.8,501.6 L1562.09,501.6 L1563.38,501.6 L1564.67,501.6 L1565.96,501.6 L1567.25,501.6 L1568.54,501.6 L1569.83,501.6 L1571.11,501.6 L1572.4,501.6 L1573.69,501.6 L1574.98,501.6 L1576.27,501.6 L1577.56,501.6 L1578.85,501.6 L1580.14,501.6 L1581.43,501.6 L1582.72,501.6 L1584.01,501.6 L1585.3,501.6 L1586.59,501.6 L1587.87,501.6 L1589.16,501.6 L1590.45,501.6 L1591.74,501.6 L1593.03,501.6 L1594.32,501.6 L1595.61,501.6 L1596.9,501.6 L1598.19,501.6 L1599.48,501.6 L1600.77,501.6 L1602.06,501.6 L1603.34,501.6 L1604.63,501.6 L1605.92,501.6 L1607.21,501.6 L1608.5,501.6 L1609.79,501.6 L1611.08,501.6" fill="none" stroke="#ff0000" stroke-width="2.2" stroke-linejoin="round"/>
<path d="M1095.4,500.4 L1095.4,500.4 L1096.69,500.4 L1097.98,500.4 L1099.27,500.4 L1100.56,500.4 L1101.85,500.4 L1103.14,500.4 L1104.42,500.4 L1105.71,500.4 L1107,500.4 L1108.29,500.4 L1109.58,500.4 L1110.87,500.4 L1112.16,500.4 L1113.45,500.4 L1114.74,500.4 L1116.03,500.4 L1117.32,500.4 L1118.61,500.4 L1119.89,500.4 L1121.18,500.4 L1122.47,500.4 L1123.76,500.4 L1125.05,500.4 L1126.34,500.4 L1127.63,500.4 L1128.92,500.4 L1130.21,500.4 L1131.5,500.4 L1132.79,500.4 L1134.08,500.4 L1135.37,500.4 L1136.65,500.4 L1137.94,500.4 L1139.23,500.4 L1140.52,500.4 L1141.81,500.4 L1143.1,500.4 L1144.39,500.4 L1145.68,500.4 L1146.97,500.4 L1148.26,500.4 L1149.55,500.4 L1150.84,500.4 L1152.12,500.4 L1153.41,500.4 L1154.7,500.4 L1155.99,500.4 L1157.28,500.4 L1158.57,500.4 L1159.86,500.4 L1161.15,500.4 L1162.44,500.4 L1163.73,500.4 L1165.02,500.4 L1166.31,500.4 L1167.6,500.4 L1168.88,500.4 L1170.17,500.4 L1171.46,500.4 L1172.75,500.4 L1174.04,500.4 L1175.33,500.4 L1176.62,500.4 L1177.91,500.4 L1179.2,500.4 L1180.49,500.4 L1181.78,500.4 L1183.07,500.4 L1184.35,500.4 L1185.64,500.4 L1186.93,500.4 L1188.22,500.4 L1189.51,500.4 L1190.8,500.4 L1192.09,500.4 L1193.38,500.4 L1194.67,500.4 L1195.96,500.4 L1197.25,500.4 L1198.54,500.4 L1199.83,500.4 L1201.11,500.4 L1202.4,500.4 L1203.69,500.4 L1204.98,500.4 L1206.27,500.4 L1207.56,500.4 L1208.85,500.4 L1210.14,500.4 L1211.43,500.4 L1212.72,500.4 L1214.01,500.4 L1215.3,500.4 L1216.58,500.4 L1217.87,500.4 L1219.16,500.4 L1220.45,500.4 L1221.74,500.4 L1223.03,500.4 L1224.32,500.4 L1225.61,500.4 L1226.9,500.4 L1228.19,500.4 L1229.48,500.4 L1230.77,500.4 L1232.06,500.4 L1233.34,500.4 L1234.63,500.4 L1235.92,500.4 L1237.21,500.4 L1238.5,500.4 L1239.79,500.4 L1241.08,500.4 L1242.37,500.4 L1243.66,500.4 L1244.95,500.4 L1246.24,500.4 L1247.53,500.4 L1248.81,500.4 L1250.1,500.4 L1251.39,500.4 L1252.68,500.4 L1253.97,500.4 L1255.26,500.4 L1256.55,500.4 L1257.84,500.4 L1259.13,500.4 L1260.42,500.4 L1261.71,500.4 L1263,500.4 L1264.29,500.4 L1265.57,500.4 L1266.86,500.4 L1268.15,500.4 L1269.44,500.4 L1270.73,500.4 L1272.02,500.4 L1273.31,500.4 L1274.6,500.4 L1275.89,500.4 L1277.18,500.4 L1278.47,500.4 L1279.76,500.4 L1281.04,500.4 L1282.33,500.4 L1283.62,500.4 L1284.91,500.4 L1286.2,500.4 L1287.49,500.4 L1288.78,500.4 L1290.07,500.4 L1291.36,500.4 L1292.65,500.4 L1293.94,500.4 L1295.23,500.4 L1296.52,500.4 L1297.8,500.4 L1299.09,500.4 L1300.38,500.4 L1301.67,500.4 L1302.96,500.4 L1304.25,500.4 L1305.54,500.4 L1306.83,500.4 L1308.12,500.4 L1309.41,500.4 L1310.7,500.4 L1311.99,500.4 L1313.27,500.4 L1314.56,500.38 L1315.85,500.24 L1317.14,500.09 L1318.43,499.93 L1319.72,499.74 L1321.01,499.54 L1322.3,499.32 L1323.59,499.08 L1324.88,498.82 L1326.17,498.53 L1327.46,498.22 L1328.75,497.88 L1330.03,497.5 L1331.32,497.1 L1332.61,496.66 L1333.9,496.18 L1335.19,495.66 L1336.48,495.1 L1337.77,494.49 L1339.06,493.83 L1340.35,493.12 L1341.64,492.36 L1342.93,491.53 L1344.22,490.65 L1345.5,489.7 L1346.79,488.67 L1348.08,487.58 L1349.37,486.4 L1350.66,485.15 L1351.95,483.8 L1353.24,482.37 L1354.53,480.84 L1355.82,479.22 L1357.11,477.49 L1358.4,475.65 L1359.69,473.7 L1360.98,471.64 L1362.26,469.45 L1363.55,467.14 L1364.84,464.7 L1366.13,462.13 L1367.42,459.42 L1368.71,456.57 L1370,453.58 L1371.29,450.44 L1372.58,447.14 L1373.87,443.69 L1375.16,440.09 L1376.45,436.33 L1377.73,432.4 L1379.02,428.31 L1380.31,424.06 L1381.6,419.65 L1382.89,415.07 L1384.18,410.32 L1385.47,405.42 L1386.76,400.35 L1388.05,395.11 L1389.34,389.73 L1390.63,384.18 L1391.92,378.48 L1393.21,372.64 L1394.49,366.66 L1395.78,360.54 L1397.07,354.28 L1398.36,347.91 L1399.65,341.42 L1400.94,334.82 L1402.23,328.13 L1403.52,321.35 L1404.81,314.49 L1406.1,307.56 L1407.39,300.58 L1408.68,293.55 L1409.96,286.5 L1411.25,279.42 L1412.54,272.35 L1413.83,265.29 L1415.12,258.25 L1416.41,251.25 L1417.7,244.32 L1418.99,237.45 L1420.28,230.67 L1421.57,224 L1422.86,217.44 L1424.15,211.03 L1425.44,204.76 L1426.72,198.67 L1428.01,192.75 L1429.3,187.04 L1430.59,181.54 L1431.88,176.28 L1433.17,171.25 L1434.46,166.49 L1435.75,162 L1437.04,157.79 L1438.33,153.87 L1439.62,150.27 L1440.91,146.98 L1442.19,144.02 L1443.48,141.4 L1444.77,139.12 L1446.06,137.19 L1447.35,135.62 L1448.64,134.41 L1449.93,133.56 L1451.22,133.08 L1452.51,132.97 L1453.8,133.23 L1455.09,133.85 L1456.38,134.85 L1457.67,136.2 L1458.95,137.92 L1460.24,139.99 L1461.53,142.41 L1462.82,145.17 L1464.11,148.26 L1465.4,151.67 L1466.69,155.4 L1467.98,159.44 L1469.27,163.76 L1470.56,168.36 L1471.85,173.23 L1473.14,178.36 L1474.42,183.72 L1475.71,189.3 L1477,195.1 L1478.29,201.08 L1479.58,207.25 L1480.87,213.58 L1482.16,220.05 L1483.45,226.65 L1484.74,233.37 L1486.03,240.19 L1487.32,247.08 L1488.61,254.05 L1489.9,261.06 L1491.18,268.11 L1492.47,275.18 L1493.76,282.25 L1495.05,289.32 L1496.34,296.37 L1497.63,303.37 L1498.92,310.34 L1500.21,317.24 L1501.5,324.07 L1502.79,330.82 L1504.08,337.47 L1505.37,344.03 L1506.65,350.47 L1507.94,356.8 L1509.23,363 L1510.52,369.07 L1511.81,375 L1513.1,380.78 L1514.39,386.42 L1515.68,391.9 L1516.97,397.23 L1518.26,402.39 L1519.55,407.4 L1520.84,412.24 L1522.13,416.92 L1523.41,421.43 L1524.7,425.78 L1525.99,429.97 L1527.28,433.99 L1528.57,437.85 L1529.86,441.55 L1531.15,445.09 L1532.44,448.48 L1533.73,451.71 L1535.02,454.79 L1536.31,457.73 L1537.6,460.52 L1538.88,463.18 L1540.17,465.7 L1541.46,468.08 L1542.75,470.34 L1544.04,472.48 L1545.33,474.5 L1546.62,476.4 L1547.91,478.19 L1549.2,479.88 L1550.49,481.47 L1551.78,482.95 L1553.07,484.35 L1554.36,485.66 L1555.64,486.88 L1556.93,488.02 L1558.22,489.09 L1559.51,490.08 L1560.8,491.01 L1562.09,491.87 L1563.38,492.67 L1564.67,493.41 L1565.96,494.1 L1567.25,494.74 L1568.54,495.33 L1569.83,495.87 L1571.11,496.38 L1572.4,496.84 L1573.69,497.27 L1574.98,497.66 L1576.27,498.02 L1577.56,498.35 L1578.85,498.65 L1580.14,498.93 L1581.43,499.18 L1582.72,499.41 L1584.01,499.63 L1585.3,499.82 L1586.59,499.99 L1587.87,500.15 L1589.16,500.3 L1590.45,500.4 L1591.74,500.4 L1593.03,500.4 L1594.32,500.4 L1595.61,500.4 L1596.9,500.4 L1598.19,500.4 L1599.48,500.4 L1600.77,500.4 L1602.06,500.4 L1603.34,500.4 L1604.63,500.4 L1605.92,500.4 L1607.21,500.4 L1608.5,500.4 L1609.79,500.4 L1611.08,500.4 L1611.08,500.4 Z" fill="#0000ff" fill-opacity="0.53"/>
<path d="M1095.4,501.6 L1096.69,501.6 L1097.98,501.6 L1099.27,501.6 L1100.56,501.6 L1101.85,501.6 L1103.14,501.6 L1104.42,501.6 L1105.71,501.6 L1107,501.6 L1108.29,501.6 L1109.58,501.6 L1110.87,501.6 L1112.16,501.6 L1113.45,501.6 L1114.74,501.6 L1116.03,501.6 L1117.32,501.6 L1118.61,501.6 L1119.89,501.6 L1121.18,501.6 L1122.47,501.6 L1123.76,501.6 L1125.05,501.6 L1126.34,501.6 L1127.63,501.6 L1128.92,501.6 L1130.21,501.6 L1131.5,501.6 L1132.79,501.6 L1134.08,501.6 L1135.37,501.6 L1136.65,501.6 L1137.94,501.6 L1139.23,501.6 L1140.52,501.6 L1141.81,501.6 L1143.1,501.6 L1144.39,501.6 L1145.68,501.6 L1146.97,501.6 L1148.26,501.6 L1149.55,501.6 L1150.84,501.6 L1152.12,501.6 L1153.41,501.6 L1154.7,501.6 L1155.99,501.6 L1157.28,501.6 L1158.57,501.6 L1159.86,501.6 L1161.15,501.6 L1162.44,501.6 L1163.73,501.6 L1165.02,501.6 L1166.31,501.6 L1167.6,501.6 L1168.88,501.6 L1170.17,501.6 L1171.46,501.6 L1172.75,501.6 L1174.04,501.6 L1175.33,501.6 L1176.62,501.6 L1177.91,501.6 L1179.2,501.6 L1180.49,501.6 L1181.78,501.6 L1183.07,501.6 L1184.35,501.6 L1185.64,501.6 L1186.93,501.6 L1188.22,501.6 L1189.51,501.6 L1190.8,501.6 L1192.09,501.6 L1193.38,501.6 L1194.67,501.6 L1195.96,501.6 L1197.25,501.6 L1198.54,501.6 L1199.83,501.6 L1201.11,501.6 L1202.4,501.6 L1203.69,501.6 L1204.98,501.6 L1206.27,501.6 L1207.56,501.6 L1208.85,501.6 L1210.14,501.6 L1211.43,501.6 L1212.72,501.6 L1214.01,501.6 L1215.3,501.6 L1216.58,501.6 L1217.87,501.6 L1219.16,501.6 L1220.45,501.6 L1221.74,501.6 L1223.03,501.6 L1224.32,501.6 L1225.61,501.6 L1226.9,501.6 L1228.19,501.6 L1229.48,501.6 L1230.77,501.6 L1232.06,501.6 L1233.34,501.6 L1234.63,501.6 L1235.92,501.6 L1237.21,501.6 L1238.5,501.6 L1239.79,501.6 L1241.08,501.6 L1242.37,501.6 L1243.66,501.6 L1244.95,501.6 L1246.24,501.6 L1247.53,501.6 L1248.81,501.6 L1250.1,501.6 L1251.39,501.6 L1252.68,501.6 L1253.97,501.6 L1255.26,501.6 L1256.55,501.6 L1257.84,501.6 L1259.13,501.6 L1260.42,501.59 L1261.71,501.59 L1263,501.59 L1264.29,501.59 L1265.57,501.59 L1266.86,501.59 L1268.15,501.59 L1269.44,501.58 L1270.73,501.58 L1272.02,501.58 L1273.31,501.58 L1274.6,501.57 L1275.89,501.57 L1277.18,501.56 L1278.47,501.56 L1279.76,501.55 L1281.04,501.55 L1282.33,501.54 L1283.62,501.53 L1284.91,501.52 L1286.2,501.51 L1287.49,501.5 L1288.78,501.48 L1290.07,501.47 L1291.36,501.45 L1292.65,501.43 L1293.94,501.41 L1295.23,501.38 L1296.52,501.35 L1297.8,501.32 L1299.09,501.29 L1300.38,501.25 L1301.67,501.2 L1302.96,501.15 L1304.25,501.1 L1305.54,501.04 L1306.83,500.97 L1308.12,500.89 L1309.41,500.81 L1310.7,500.72 L1311.99,500.62 L1313.27,500.5 L1314.56,500.38 L1315.85,500.24 L1317.14,500.09 L1318.43,499.93 L1319.72,499.74 L1321.01,499.54 L1322.3,499.32 L1323.59,499.08 L1324.88,498.82 L1326.17,498.53 L1327.46,498.22 L1328.75,497.88 L1330.03,497.5 L1331.32,497.1 L1332.61,496.66 L1333.9,496.18 L1335.19,495.66 L1336.48,495.1 L1337.77,494.49 L1339.06,493.83 L1340.35,493.12 L1341.64,492.36 L1342.93,491.53 L1344.22,490.65 L1345.5,489.7 L1346.79,488.67 L1348.08,487.58 L1349.37,486.4 L1350.66,485.15 L1351.95,483.8 L1353.24,482.37 L1354.53,480.84 L1355.82,479.22 L1357.11,477.49 L1358.4,475.65 L1359.69,473.7 L1360.98,471.64 L1362.26,469.45 L1363.55,467.14 L1364.84,464.7 L1366.13,462.13 L1367.42,459.42 L1368.71,456.57 L1370,453.58 L1371.29,450.44 L1372.58,447.14 L1373.87,443.69 L1375.16,440.09 L1376.45,436.33 L1377.73,432.4 L1379.02,428.31 L1380.31,424.06 L1381.6,419.65 L1382.89,415.07 L1384.18,410.32 L1385.47,405.42 L1386.76,400.35 L1388.05,395.11 L1389.34,389.73 L1390.63,384.18 L1391.92,378.48 L1393.21,372.64 L1394.49,366.66 L1395.78,360.54 L1397.07,354.28 L1398.36,347.91 L1399.65,341.42 L1400.94,334.82 L1402.23,328.13 L1403.52,321.35 L1404.81,314.49 L1406.1,307.56 L1407.39,300.58 L1408.68,293.55 L1409.96,286.5 L1411.25,279.42 L1412.54,272.35 L1413.83,265.29 L1415.12,258.25 L1416.41,251.25 L1417.7,244.32 L1418.99,237.45 L1420.28,230.67 L1421.57,224 L1422.86,217.44 L1424.15,211.03 L1425.44,204.76 L1426.72,198.67 L1428.01,192.75 L1429.3,187.04 L1430.59,181.54 L1431.88,176.28 L1433.17,171.25 L1434.46,166.49 L1435.75,162 L1437.04,157.79 L1438.33,153.87 L1439.62,150.27 L1440.91,146.98 L1442.19,144.02 L1443.48,141.4 L1444.77,139.12 L1446.06,137.19 L1447.35,135.62 L1448.64,134.41 L1449.93,133.56 L1451.22,133.08 L1452.51,132.97 L1453.8,133.23 L1455.09,133.85 L1456.38,134.85 L1457.67,136.2 L1458.95,137.92 L1460.24,139.99 L1461.53,142.41 L1462.82,145.17 L1464.11,148.26 L1465.4,151.67 L1466.69,155.4 L1467.98,159.44 L1469.27,163.76 L1470.56,168.36 L1471.85,173.23 L1473.14,178.36 L1474.42,183.72 L1475.71,189.3 L1477,195.1 L1478.29,201.08 L1479.58,207.25 L1480.87,213.58 L1482.16,220.05 L1483.45,226.65 L1484.74,233.37 L1486.03,240.19 L1487.32,247.08 L1488.61,254.05 L1489.9,261.06 L1491.18,268.11 L1492.47,275.18 L1493.76,282.25 L1495.05,289.32 L1496.34,296.37 L1497.63,303.37 L1498.92,310.34 L1500.21,317.24 L1501.5,324.07 L1502.79,330.82 L1504.08,337.47 L1505.37,344.03 L1506.65,350.47 L1507.94,356.8 L1509.23,363 L1510.52,369.07 L1511.81,375 L1513.1,380.78 L1514.39,386.42 L1515.68,391.9 L1516.97,397.23 L1518.26,402.39 L1519.55,407.4 L1520.84,412.24 L1522.13,416.92 L1523.41,421.43 L1524.7,425.78 L1525.99,429.97 L1527.28,433.99 L1528.57,437.85 L1529.86,441.55 L1531.15,445.09 L1532.44,448.48 L1533.73,451.71 L1535.02,454.79 L1536.31,457.73 L1537.6,460.52 L1538.88,463.18 L1540.17,465.7 L1541.46,468.08 L1542.75,470.34 L1544.04,472.48 L1545.33,474.5 L1546.62,476.4 L1547.91,478.19 L1549.2,479.88 L1550.49,481.47 L1551.78,482.95 L1553.07,484.35 L1554.36,485.66 L1555.64,486.88 L1556.93,488.02 L1558.22,489.09 L1559.51,490.08 L1560.8,491.01 L1562.09,491.87 L1563.38,492.67 L1564.67,493.41 L1565.96,494.1 L1567.25,494.74 L1568.54,495.33 L1569.83,495.87 L1571.11,496.38 L1572.4,496.84 L1573.69,497.27 L1574.98,497.66 L1576.27,498.02 L1577.56,498.35 L1578.85,498.65 L1580.14,498.93 L1581.43,499.18 L1582.72,499.41 L1584.01,499.63 L1585.3,499.82 L1586.59,499.99 L1587.87,500.15 L1589.16,500.3 L1590.45,500.43 L1591.74,500.55 L1593.03,500.66 L1594.32,500.76 L1595.61,500.85 L1596.9,500.93 L1598.19,501 L1599.48,501.06 L1600.77,501.12 L1602.06,501.17 L1603.34,501.22 L1604.63,501.26 L1605.92,501.3 L1607.21,501.33 L1608.5,501.36 L1609.79,501.39 L1611.08,501.42" fill="none" stroke="#0000ff" stroke-width="2.2" stroke-linejoin="round"/>
<text font-size="35.5" letter-spacing="0.315" transform="translate(1294.49,610.9) scale(1,1.06)">Frequency (Hz)</text>
<text font-size="35" letter-spacing="-0.104" transform="translate(990.5,473.17) rotate(-90) scale(1,1.06)">Number of Observations</text>
<line x1="1115" y1="35.8" x2="1158.9" y2="35.8" stroke="#0000ff" stroke-width="2.6" stroke-linecap="round"/>
<text font-size="35" font-style="italic" letter-spacing="0.237" transform="translate(1187.03,47.8) scale(1,1.06)">Ae. aegypti</text>
<line x1="1115" y1="82.8" x2="1158.9" y2="82.8" stroke="#ff0000" stroke-width="2.6" stroke-linecap="round"/>
<text font-size="35" font-style="italic" letter-spacing="0.618" transform="translate(1186.37,94) scale(1,1.06)">Cx. quinquefasciatus</text>
<line x1="1115" y1="132.5" x2="1158.9" y2="132.5" stroke="#00a000" stroke-width="2.6" stroke-linecap="round"/>
<text font-size="35" font-style="italic" letter-spacing="0.475" transform="translate(1187.03,144.3) scale(1,1.06)">An stephensi</text>
<text font-size="57.5" letter-spacing="-1.798" transform="translate(907.39,43.9)">b.</text>
<line x1="171.5" y1="1197.6" x2="833.6" y2="1197.6" stroke="#000" stroke-width="4.2" stroke-linecap="butt"/>
<line x1="245.8" y1="1197.6" x2="245.8" y2="1215.1" stroke="#000" stroke-width="4.2" stroke-linecap="butt"/>
<line x1="329.5" y1="1197.6" x2="329.5" y2="1215.1" stroke="#000" stroke-width="4.2" stroke-linecap="butt"/>
<line x1="468.3" y1="1197.6" x2="468.3" y2="1215.1" stroke="#000" stroke-width="4.2" stroke-linecap="butt"/>
<line x1="552.8" y1="1197.6" x2="552.8" y2="1215.1" stroke="#000" stroke-width="4.2" stroke-linecap="butt"/>
<line x1="691.3" y1="1197.6" x2="691.3" y2="1215.1" stroke="#000" stroke-width="4.2" stroke-linecap="butt"/>
<line x1="775.8" y1="1197.6" x2="775.8" y2="1215.1" stroke="#000" stroke-width="4.2" stroke-linecap="butt"/>
<line x1="190" y1="881.4" x2="190" y2="1197.6" stroke="#000" stroke-width="4.2" stroke-linecap="butt"/>
<line x1="190" y1="768.2" x2="190" y2="849.4" stroke="#000" stroke-width="4.2" stroke-linecap="butt"/>
<line x1="179.5" y1="881.4" x2="200.5" y2="881.4" stroke="#000" stroke-width="4.2" stroke-linecap="butt"/>
<line x1="179.5" y1="849.4" x2="200.5" y2="849.4" stroke="#000" stroke-width="4.2" stroke-linecap="butt"/>
<line x1="171.5" y1="1197.6" x2="190" y2="1197.6" stroke="#000" stroke-width="4.2" stroke-linecap="butt"/>
<text font-size="32.5" font-weight="bold" transform="translate(149.46,1208.98)">0</text>
<line x1="171.5" y1="1071.15" x2="190" y2="1071.15" stroke="#000" stroke-width="4.2" stroke-linecap="butt"/>
<text font-size="32.5" font-weight="bold" transform="translate(113.31,1082.53)">100</text>
<line x1="171.5" y1="944.7" x2="190" y2="944.7" stroke="#000" stroke-width="4.2" stroke-linecap="butt"/>
<text font-size="32.5" font-weight="bold" transform="translate(113.31,956.08)">200</text>
<line x1="171.5" y1="833.27" x2="190" y2="833.27" stroke="#000" stroke-width="4.2" stroke-linecap="butt"/>
<text font-size="32.5" font-weight="bold" transform="translate(113.31,844.65)">300</text>
<line x1="171.5" y1="801.83" x2="190" y2="801.83" stroke="#000" stroke-width="4.2" stroke-linecap="butt"/>
<text font-size="32.5" font-weight="bold" transform="translate(113.31,813.21)">400</text>
<line x1="171.5" y1="770.38" x2="190" y2="770.38" stroke="#000" stroke-width="4.2" stroke-linecap="butt"/>
<text font-size="32.5" font-weight="bold" transform="translate(113.31,781.75)">500</text>
<circle cx="224.4" cy="1190.5" r="6.6" fill="#0000ff"/>
<circle cx="235.1" cy="1183.4" r="6.6" fill="#0000ff"/>
<circle cx="246.3" cy="1189" r="6.6" fill="#0000ff"/>
<circle cx="256.4" cy="1183.9" r="6.6" fill="#0000ff"/>
<circle cx="267.1" cy="1195.6" r="6.6" fill="#0000ff"/>
<path d="M213.2,1188.5H219.2 M233.2,1188.5H240.6 M254.2,1188.5H261.8 M275.2,1188.5H277.8" stroke="#000" stroke-width="4.1" stroke-linecap="round" fill="none"/>
<line x1="245.8" y1="1182.4" x2="245.8" y2="1195.1" stroke="#000" stroke-width="4.2" stroke-linecap="butt"/>
<line x1="239.2" y1="1182.4" x2="252.4" y2="1182.4" stroke="#000" stroke-width="4.4" stroke-linecap="butt"/>
<line x1="239.2" y1="1195.1" x2="252.4" y2="1195.1" stroke="#000" stroke-width="4.4" stroke-linecap="butt"/>
<circle cx="329.5" cy="987" r="6.6" fill="#0000ff"/>
<circle cx="329.5" cy="1098.4" r="6.6" fill="#0000ff"/>
<circle cx="308.3" cy="1151.9" r="6.6" fill="#0000ff"/>
<circle cx="329.2" cy="1149.8" r="6.6" fill="#0000ff"/>
<circle cx="351" cy="1153.9" r="6.6" fill="#0000ff"/>
<circle cx="318.5" cy="1161" r="6.6" fill="#0000ff"/>
<circle cx="308.3" cy="1169.2" r="6.6" fill="#0000ff"/>
<circle cx="329.2" cy="1170.2" r="6.6" fill="#0000ff"/>
<circle cx="339.8" cy="1169.2" r="6.6" fill="#0000ff"/>
<circle cx="351" cy="1170.2" r="6.6" fill="#0000ff"/>
<circle cx="324.1" cy="1197.6" r="6.6" fill="#0000ff"/>
<circle cx="334.8" cy="1197.6" r="6.6" fill="#0000ff"/>
<path d="M297.1,1148.3H303.1 M317.1,1148.3H324.5 M338.1,1148.3H345.7 M359.1,1148.3H361.7" stroke="#000" stroke-width="4.1" stroke-linecap="round" fill="none"/>
<line x1="329.5" y1="1112" x2="329.5" y2="1184.4" stroke="#000" stroke-width="4.2" stroke-linecap="butt"/>
<line x1="322.9" y1="1112" x2="336.1" y2="1112" stroke="#000" stroke-width="4.4" stroke-linecap="butt"/>
<line x1="322.9" y1="1184.4" x2="336.1" y2="1184.4" stroke="#000" stroke-width="4.4" stroke-linecap="butt"/>
<rect x="440.75" y="1152.65" width="13.3" height="13.3" fill="#ff0000"/>
<rect x="451.55" y="1149.25" width="13.3" height="13.3" fill="#ff0000"/>
<rect x="462.25" y="1153.25" width="13.3" height="13.3" fill="#ff0000"/>
<rect x="472.95" y="1150.35" width="13.3" height="13.3" fill="#ff0000"/>
<rect x="483.65" y="1155.05" width="13.3" height="13.3" fill="#ff0000"/>
<path d="M442.8,1159H449.8 M462.4,1159H470.8 M483.4,1159H492.2" stroke="#000" stroke-width="4.1" stroke-linecap="round" fill="none"/>
<line x1="468.3" y1="1154.9" x2="468.3" y2="1162.6" stroke="#000" stroke-width="4.2" stroke-linecap="butt"/>
<line x1="461.7" y1="1154.9" x2="474.9" y2="1154.9" stroke="#000" stroke-width="4.4" stroke-linecap="butt"/>
<line x1="461.7" y1="1162.6" x2="474.9" y2="1162.6" stroke="#000" stroke-width="4.4" stroke-linecap="butt"/>
<rect x="546.15" y="785.05" width="13.3" height="13.3" fill="#ff0000"/>
<rect x="546.15" y="937.95" width="13.3" height="13.3" fill="#ff0000"/>
<rect x="546.15" y="1001.65" width="13.3" height="13.3" fill="#ff0000"/>
<rect x="524.35" y="1149.45" width="13.3" height="13.3" fill="#ff0000"/>
<rect x="539.05" y="1140.65" width="13.3" height="13.3" fill="#ff0000"/>
<rect x="539.05" y="1155.65" width="13.3" height="13.3" fill="#ff0000"/>
<rect x="539.05" y="1170.55" width="13.3" height="13.3" fill="#ff0000"/>
<rect x="524.35" y="1179.15" width="13.3" height="13.3" fill="#ff0000"/>
<rect x="553.15" y="1152.65" width="13.3" height="13.3" fill="#ff0000"/>
<rect x="567.45" y="1149.45" width="13.3" height="13.3" fill="#ff0000"/>
<rect x="553.15" y="1179.15" width="13.3" height="13.3" fill="#ff0000"/>
<rect x="567.45" y="1175.95" width="13.3" height="13.3" fill="#ff0000"/>
<path d="M526.7,1093H533.7 M546.3,1093H554.7 M567.3,1093H576.3" stroke="#000" stroke-width="4.1" stroke-linecap="round" fill="none"/>
<line x1="552.8" y1="992" x2="552.8" y2="1193.9" stroke="#000" stroke-width="4.2" stroke-linecap="butt"/>
<line x1="546.2" y1="992" x2="559.4" y2="992" stroke="#000" stroke-width="4.4" stroke-linecap="butt"/>
<line x1="546.2" y1="1193.9" x2="559.4" y2="1193.9" stroke="#000" stroke-width="4.4" stroke-linecap="butt"/>
<polygon points="670.7,1149.5 663.9,1162.7 677.5,1162.7" fill="#00aa00"/>
<polygon points="670.7,1164.8 663.9,1178 677.5,1178" fill="#00aa00"/>
<polygon points="684.1,1154.7 677.3,1167.9 690.9,1167.9" fill="#00aa00"/>
<polygon points="699,1160 692.2,1173.2 705.8,1173.2" fill="#00aa00"/>
<polygon points="713.4,1155.2 706.6,1168.4 720.2,1168.4" fill="#00aa00"/>
<path d="M665.9,1162.5H672.9 M685.5,1162.5H693.9 M706.5,1162.5H714.8" stroke="#000" stroke-width="4.1" stroke-linecap="round" fill="none"/>
<line x1="691.3" y1="1156.3" x2="691.3" y2="1169.3" stroke="#000" stroke-width="4.2" stroke-linecap="butt"/>
<line x1="684.7" y1="1156.3" x2="697.9" y2="1156.3" stroke="#000" stroke-width="4.4" stroke-linecap="butt"/>
<line x1="684.7" y1="1169.3" x2="697.9" y2="1169.3" stroke="#000" stroke-width="4.4" stroke-linecap="butt"/>
<polygon points="775.8,827.6 769,840.8 782.6,840.8" fill="#00aa00"/>
<polygon points="754.2,1103.3 747.4,1116.5 761,1116.5" fill="#00aa00"/>
<polygon points="797,1099.5 790.2,1112.7 803.8,1112.7" fill="#00aa00"/>
<polygon points="775.4,1112.5 768.6,1125.7 782.2,1125.7" fill="#00aa00"/>
<polygon points="754.2,1128.3 747.4,1141.5 761,1141.5" fill="#00aa00"/>
<polygon points="775.4,1137 768.6,1150.2 782.2,1150.2" fill="#00aa00"/>
<polygon points="797,1137.4 790.2,1150.6 803.8,1150.6" fill="#00aa00"/>
<polygon points="754.2,1153.8 747.4,1167 761,1167" fill="#00aa00"/>
<polygon points="775.4,1153.3 768.6,1166.5 782.2,1166.5" fill="#00aa00"/>
<polygon points="797,1155.7 790.2,1168.9 803.8,1168.9" fill="#00aa00"/>
<polygon points="775.4,1168.7 768.6,1181.9 782.2,1181.9" fill="#00aa00"/>
<polygon points="775.4,1183.6 768.6,1196.8 782.2,1196.8" fill="#00aa00"/>
<path d="M750,1117.4H757 M769.6,1117.4H778 M790.6,1117.4H799.3" stroke="#000" stroke-width="4.1" stroke-linecap="round" fill="none"/>
<line x1="775.8" y1="1055.2" x2="775.8" y2="1179.3" stroke="#000" stroke-width="4.2" stroke-linecap="butt"/>
<line x1="769.2" y1="1055.2" x2="782.4" y2="1055.2" stroke="#000" stroke-width="4.4" stroke-linecap="butt"/>
<line x1="769.2" y1="1179.3" x2="782.4" y2="1179.3" stroke="#000" stroke-width="4.4" stroke-linecap="butt"/>
<text font-size="35.4" text-anchor="end" transform="translate(256.26,1247.67) rotate(-45) scale(1,1.03)">Aggregate Collection</text>
<text font-size="35.4" text-anchor="end" transform="translate(339.96,1247.67) rotate(-45) scale(1,1.03)">Replicates</text>
<text font-size="35.4" text-anchor="end" transform="translate(478.76,1247.67) rotate(-45) scale(1,1.03)">Aggregate Collection</text>
<text font-size="35.4" text-anchor="end" transform="translate(563.26,1247.67) rotate(-45) scale(1,1.03)">Replicates</text>
<text font-size="35.4" text-anchor="end" transform="translate(701.76,1247.67) rotate(-45) scale(1,1.03)">Aggregate Collection</text>
<text font-size="35.4" text-anchor="end" transform="translate(786.26,1247.67) rotate(-45) scale(1,1.03)">Replicates</text>
<text font-size="35.5" letter-spacing="0.148" transform="translate(49.4,1133.7) rotate(-90) scale(1,1.06)">Classification Error</text>
<text font-size="35.5" letter-spacing="0.173" transform="translate(92.1,1144.8) rotate(-90) scale(1,1.06)">(%; mean ± 95% CI)</text>
<circle cx="223" cy="704" r="6.6" fill="#0000ff"/>
<text font-size="35" font-style="italic" letter-spacing="0.137" transform="translate(272.93,716.2) scale(1,1.06)">Ae. aegypti</text>
<rect x="216.35" y="740.95" width="13.3" height="13.3" fill="#ff0000"/>
<text font-size="35" font-style="italic" letter-spacing="0.565" transform="translate(271.87,758.5) scale(1,1.06)">Cx. quinquefasciatus</text>
<polygon points="223,785.8 216.2,799 229.8,799" fill="#00aa00"/>
<text font-size="35" font-style="italic" letter-spacing="0.425" transform="translate(272.93,803.3) scale(1,1.06)">Ae. albopictus</text>
<text font-size="57.5" letter-spacing="-0.632" transform="translate(0.96,755.7)">c.</text>
<line x1="1077.7" y1="1197.4" x2="1739.7" y2="1197.4" stroke="#000" stroke-width="4.2" stroke-linecap="butt"/>
<line x1="1151.8" y1="1197.4" x2="1151.8" y2="1214.9" stroke="#000" stroke-width="4.2" stroke-linecap="butt"/>
<line x1="1235.5" y1="1197.4" x2="1235.5" y2="1214.9" stroke="#000" stroke-width="4.2" stroke-linecap="butt"/>
<line x1="1374.7" y1="1197.4" x2="1374.7" y2="1214.9" stroke="#000" stroke-width="4.2" stroke-linecap="butt"/>
<line x1="1458.5" y1="1197.4" x2="1458.5" y2="1214.9" stroke="#000" stroke-width="4.2" stroke-linecap="butt"/>
<line x1="1597.9" y1="1197.4" x2="1597.9" y2="1214.9" stroke="#000" stroke-width="4.2" stroke-linecap="butt"/>
<line x1="1681.6" y1="1197.4" x2="1681.6" y2="1214.9" stroke="#000" stroke-width="4.2" stroke-linecap="butt"/>
<line x1="1096.2" y1="767.2" x2="1096.2" y2="1197.4" stroke="#000" stroke-width="4.2" stroke-linecap="butt"/>
<line x1="1077.7" y1="1197.4" x2="1096.2" y2="1197.4" stroke="#000" stroke-width="4.2" stroke-linecap="butt"/>
<text font-size="32.5" font-weight="bold" transform="translate(1055.66,1208.78)">0</text>
<line x1="1077.7" y1="1090.38" x2="1096.2" y2="1090.38" stroke="#000" stroke-width="4.2" stroke-linecap="butt"/>
<text font-size="32.5" font-weight="bold" transform="translate(1037.58,1101.76)">50</text>
<line x1="1077.7" y1="983.35" x2="1096.2" y2="983.35" stroke="#000" stroke-width="4.2" stroke-linecap="butt"/>
<text font-size="32.5" font-weight="bold" transform="translate(1019.51,994.73)">100</text>
<line x1="1077.7" y1="876.33" x2="1096.2" y2="876.33" stroke="#000" stroke-width="4.2" stroke-linecap="butt"/>
<text font-size="32.5" font-weight="bold" transform="translate(1019.51,887.71)">150</text>
<line x1="1077.7" y1="769.3" x2="1096.2" y2="769.3" stroke="#000" stroke-width="4.2" stroke-linecap="butt"/>
<text font-size="32.5" font-weight="bold" transform="translate(1019.51,780.68)">200</text>
<circle cx="1130.5" cy="1196.7" r="6.6" fill="#0000ff"/>
<circle cx="1144.4" cy="1190.5" r="6.6" fill="#0000ff"/>
<circle cx="1151.8" cy="1176.5" r="6.6" fill="#0000ff"/>
<circle cx="1159.3" cy="1194.8" r="6.6" fill="#0000ff"/>
<circle cx="1173.2" cy="1191" r="6.6" fill="#0000ff"/>
<path d="M1119.5,1190H1125.5 M1139.5,1190H1146.9 M1160.5,1190H1168.1 M1181.5,1190H1183.7" stroke="#000" stroke-width="4.1" stroke-linecap="round" fill="none"/>
<line x1="1151.8" y1="1180.4" x2="1151.8" y2="1196.6" stroke="#000" stroke-width="4.2" stroke-linecap="butt"/>
<line x1="1145.2" y1="1180.4" x2="1158.4" y2="1180.4" stroke="#000" stroke-width="4.4" stroke-linecap="butt"/>
<line x1="1145.2" y1="1196.6" x2="1158.4" y2="1196.6" stroke="#000" stroke-width="4.4" stroke-linecap="butt"/>
<circle cx="1235.5" cy="1091" r="6.6" fill="#0000ff"/>
<circle cx="1231.3" cy="1104.5" r="6.6" fill="#0000ff"/>
<circle cx="1231.3" cy="1116.5" r="6.6" fill="#0000ff"/>
<circle cx="1240" cy="1116" r="6.6" fill="#0000ff"/>
<circle cx="1214" cy="1144.8" r="6.6" fill="#0000ff"/>
<circle cx="1222.2" cy="1148.2" r="6.6" fill="#0000ff"/>
<circle cx="1230.8" cy="1154.4" r="6.6" fill="#0000ff"/>
<circle cx="1240" cy="1151.1" r="6.6" fill="#0000ff"/>
<circle cx="1248.6" cy="1147.2" r="6.6" fill="#0000ff"/>
<circle cx="1256.8" cy="1147.7" r="6.6" fill="#0000ff"/>
<circle cx="1239.5" cy="1166" r="6.6" fill="#0000ff"/>
<circle cx="1235.5" cy="1186.6" r="6.6" fill="#0000ff"/>
<path d="M1203,1139.8H1209 M1223,1139.8H1230.4 M1244,1139.8H1251.6 M1265,1139.8H1267.7" stroke="#000" stroke-width="4.1" stroke-linecap="round" fill="none"/>
<line x1="1235.5" y1="1122.7" x2="1235.5" y2="1157.3" stroke="#000" stroke-width="4.2" stroke-linecap="butt"/>
<line x1="1228.9" y1="1122.7" x2="1242.1" y2="1122.7" stroke="#000" stroke-width="4.4" stroke-linecap="butt"/>
<line x1="1228.9" y1="1157.3" x2="1242.1" y2="1157.3" stroke="#000" stroke-width="4.4" stroke-linecap="butt"/>
<rect x="1346.65" y="1174.85" width="13.3" height="13.3" fill="#ff0000"/>
<rect x="1346.65" y="1189.55" width="13.3" height="13.3" fill="#ff0000"/>
<rect x="1368.25" y="1181.85" width="13.3" height="13.3" fill="#ff0000"/>
<rect x="1389.65" y="1170.85" width="13.3" height="13.3" fill="#ff0000"/>
<rect x="1389.65" y="1186.05" width="13.3" height="13.3" fill="#ff0000"/>
<path d="M1342.6,1187.2H1348.6 M1362.6,1187.2H1370 M1383.6,1187.2H1391.2 M1404.6,1187.2H1407.3" stroke="#000" stroke-width="4.1" stroke-linecap="round" fill="none"/>
<line x1="1374.7" y1="1177.9" x2="1374.7" y2="1195.5" stroke="#000" stroke-width="4.2" stroke-linecap="butt"/>
<line x1="1368.1" y1="1177.9" x2="1381.3" y2="1177.9" stroke="#000" stroke-width="4.4" stroke-linecap="butt"/>
<line x1="1368.1" y1="1195.5" x2="1381.3" y2="1195.5" stroke="#000" stroke-width="4.4" stroke-linecap="butt"/>
<rect x="1452.05" y="848.95" width="13.3" height="13.3" fill="#ff0000"/>
<rect x="1441.35" y="977.35" width="13.3" height="13.3" fill="#ff0000"/>
<rect x="1462.35" y="977.35" width="13.3" height="13.3" fill="#ff0000"/>
<rect x="1441.35" y="1111.25" width="13.3" height="13.3" fill="#ff0000"/>
<rect x="1462.65" y="1105.75" width="13.3" height="13.3" fill="#ff0000"/>
<rect x="1430.95" y="1158.55" width="13.3" height="13.3" fill="#ff0000"/>
<rect x="1430.95" y="1173.85" width="13.3" height="13.3" fill="#ff0000"/>
<rect x="1452.05" y="1170.95" width="13.3" height="13.3" fill="#ff0000"/>
<rect x="1473.75" y="1158.55" width="13.3" height="13.3" fill="#ff0000"/>
<rect x="1473.75" y="1174.85" width="13.3" height="13.3" fill="#ff0000"/>
<rect x="1441.35" y="1191.35" width="13.3" height="13.3" fill="#ff0000"/>
<rect x="1462.65" y="1191.35" width="13.3" height="13.3" fill="#ff0000"/>
<path d="M1426.1,1110.2H1432.1 M1446.1,1110.2H1453.5 M1467.1,1110.2H1474.7 M1488.1,1110.2H1490.8" stroke="#000" stroke-width="4.1" stroke-linecap="round" fill="none"/>
<line x1="1458.5" y1="1040.3" x2="1458.5" y2="1179.8" stroke="#000" stroke-width="4.2" stroke-linecap="butt"/>
<line x1="1451.9" y1="1040.3" x2="1465.1" y2="1040.3" stroke="#000" stroke-width="4.4" stroke-linecap="butt"/>
<line x1="1451.9" y1="1179.8" x2="1465.1" y2="1179.8" stroke="#000" stroke-width="4.4" stroke-linecap="butt"/>
<polygon points="1576.6,1176.9 1569.8,1190.1 1583.4,1190.1" fill="#00aa00"/>
<polygon points="1590.5,1166.4 1583.7,1179.6 1597.3,1179.6" fill="#00aa00"/>
<polygon points="1605.4,1178.4 1598.6,1191.6 1612.2,1191.6" fill="#00aa00"/>
<polygon points="1619.4,1170.7 1612.6,1183.9 1626.2,1183.9" fill="#00aa00"/>
<polygon points="1590.5,1189.9 1583.7,1203.1 1597.3,1203.1" fill="#00aa00"/>
<path d="M1565.2,1183H1571.2 M1585.2,1183H1592.6 M1606.2,1183H1613.8 M1627.2,1183H1629.8" stroke="#000" stroke-width="4.1" stroke-linecap="round" fill="none"/>
<line x1="1597.9" y1="1172" x2="1597.9" y2="1193.8" stroke="#000" stroke-width="4.2" stroke-linecap="butt"/>
<line x1="1591.3" y1="1172" x2="1604.5" y2="1172" stroke="#000" stroke-width="4.4" stroke-linecap="butt"/>
<line x1="1591.3" y1="1193.8" x2="1604.5" y2="1193.8" stroke="#000" stroke-width="4.4" stroke-linecap="butt"/>
<polygon points="1681.7,977.4 1674.9,990.6 1688.5,990.6" fill="#00aa00"/>
<polygon points="1681.7,1048.7 1674.9,1061.9 1688.5,1061.9" fill="#00aa00"/>
<polygon points="1681.6,1084.2 1674.8,1097.4 1688.4,1097.4" fill="#00aa00"/>
<polygon points="1667.4,1124.1 1660.6,1137.3 1674.2,1137.3" fill="#00aa00"/>
<polygon points="1681.6,1123.6 1674.8,1136.8 1688.4,1136.8" fill="#00aa00"/>
<polygon points="1695.7,1120.2 1688.9,1133.4 1702.5,1133.4" fill="#00aa00"/>
<polygon points="1660.2,1152.4 1653.4,1165.6 1667,1165.6" fill="#00aa00"/>
<polygon points="1688.5,1159.2 1681.7,1172.4 1695.3,1172.4" fill="#00aa00"/>
<polygon points="1674.1,1164.4 1667.3,1177.6 1680.9,1177.6" fill="#00aa00"/>
<polygon points="1703,1163 1696.2,1176.2 1709.8,1176.2" fill="#00aa00"/>
<polygon points="1688.5,1176.9 1681.7,1190.1 1695.3,1190.1" fill="#00aa00"/>
<polygon points="1681.6,1191.3 1674.8,1204.5 1688.4,1204.5" fill="#00aa00"/>
<path d="M1649.2,1130.1H1655.2 M1669.2,1130.1H1676.6 M1690.2,1130.1H1697.8 M1711.2,1130.1H1713.9" stroke="#000" stroke-width="4.1" stroke-linecap="round" fill="none"/>
<line x1="1681.6" y1="1091.5" x2="1681.6" y2="1168.9" stroke="#000" stroke-width="4.2" stroke-linecap="butt"/>
<line x1="1675" y1="1091.5" x2="1688.2" y2="1091.5" stroke="#000" stroke-width="4.4" stroke-linecap="butt"/>
<line x1="1675" y1="1168.9" x2="1688.2" y2="1168.9" stroke="#000" stroke-width="4.4" stroke-linecap="butt"/>
<text font-size="35.4" text-anchor="end" transform="translate(1162.26,1247.47) rotate(-45) scale(1,1.03)">Aggregate Collection</text>
<text font-size="35.4" text-anchor="end" transform="translate(1245.96,1247.47) rotate(-45) scale(1,1.03)">Replicates</text>
<text font-size="35.4" text-anchor="end" transform="translate(1385.16,1247.47) rotate(-45) scale(1,1.03)">Aggregate Collection</text>
<text font-size="35.4" text-anchor="end" transform="translate(1468.96,1247.47) rotate(-45) scale(1,1.03)">Replicates</text>
<text font-size="35.4" text-anchor="end" transform="translate(1608.36,1247.47) rotate(-45) scale(1,1.03)">Aggregate Collection</text>
<text font-size="35.4" text-anchor="end" transform="translate(1692.06,1247.47) rotate(-45) scale(1,1.03)">Replicates</text>
<text font-size="35.5" letter-spacing="0.174" transform="translate(954.9,1133.7) rotate(-90) scale(1,1.06)">Classification Error</text>
<text font-size="35.5" letter-spacing="0.191" transform="translate(997.9,1144.6) rotate(-90) scale(1,1.06)">(%; mean ± 95% CI)</text>
<circle cx="1126.7" cy="710.3" r="6.6" fill="#0000ff"/>
<text font-size="35" font-style="italic" letter-spacing="0.097" transform="translate(1176.33,721.9) scale(1,1.06)">Ae. aegypti</text>
<rect x="1120.05" y="746.35" width="13.3" height="13.3" fill="#ff0000"/>
<text font-size="35" font-style="italic" letter-spacing="0.591" transform="translate(1175.37,764) scale(1,1.06)">Cx. quinquefasciatus</text>
<polygon points="1126.7,787.6 1119.9,800.8 1133.5,800.8" fill="#00aa00"/>
<text font-size="35" font-style="italic" letter-spacing="0.509" transform="translate(1175.93,804.8) scale(1,1.06)">An. stephensi</text>
<text font-size="57.5" letter-spacing="-1.089" transform="translate(912.09,755.5)">d.</text>
</svg>
</body></html>
